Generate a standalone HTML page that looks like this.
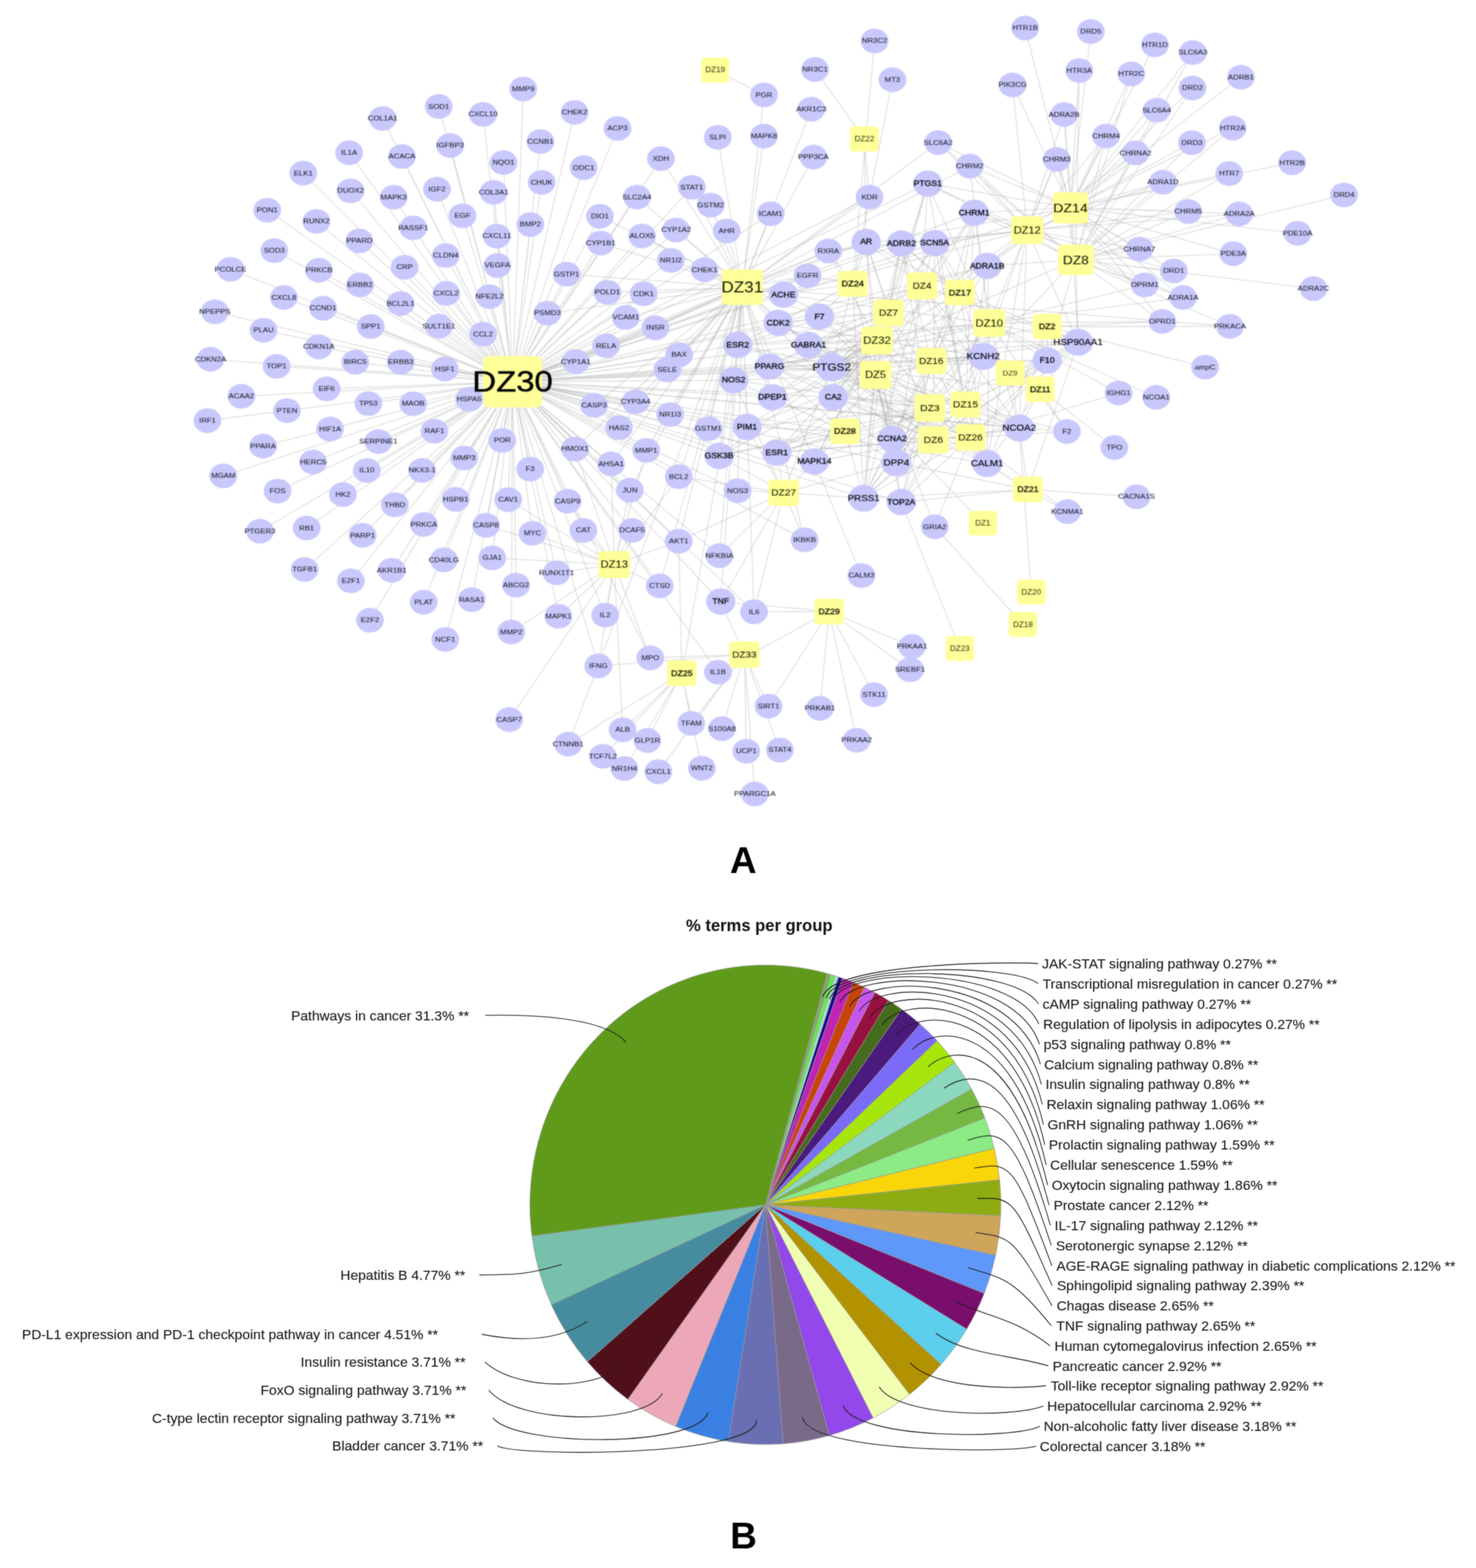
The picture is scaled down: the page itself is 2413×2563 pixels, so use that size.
<!DOCTYPE html>
<html lang="en"><head><meta charset="utf-8"><title>Network and pathway enrichment</title>
<style>
html,body{margin:0;padding:0;background:#fff}
body{width:2413px;height:2563px;overflow:hidden}
svg{display:block;font-family:"Liberation Sans",sans-serif}
.e{stroke:#969696;stroke-width:1.3;stroke-opacity:.37;fill:none}
.g{fill:#c8c8fc}
.d{fill:#ffff99}
.t{fill:#1c1c26;text-anchor:middle;stroke:#1c1c26;stroke-width:.08}
.t .b{stroke-width:.38;fill:#06060c;stroke:#06060c}
.t .l{stroke-width:.25;fill:#08080e;stroke:#08080e}
.dt{fill:#1c1c06;text-anchor:middle;stroke:#1c1c06;stroke-width:.15}
.dt .s{fill:#2c2c12;stroke:none}
.dt .big{stroke-width:.12}
.dt .m{stroke-width:.42;fill:#080800;stroke:#080800}
.dt .x{stroke-width:.7;fill:#000;stroke:#000}
.pl{font-size:22.67px;fill:#1a1a1a;stroke:#1a1a1a;stroke-width:.2}
.ln{stroke:#1c1c1c;stroke-width:1.35;fill:none}
.sl{stroke:#999;stroke-width:0.9;stroke-linejoin:round}
</style></head><body>
<svg width="2413" height="2563" viewBox="0 0 2413 2563" role="img" aria-label="Compound-target network (A) and KEGG pathway pie chart (B)">
<defs><filter id="b1" x="-2%" y="-2%" width="104%" height="104%" color-interpolation-filters="sRGB"><feGaussianBlur stdDeviation="0.85" result="b"/><feComposite in="SourceGraphic" in2="b" operator="arithmetic" k1="0" k2="0.25" k3="0.75" k4="0"/></filter><filter id="b2" x="-2%" y="-2%" width="104%" height="104%" color-interpolation-filters="sRGB"><feGaussianBlur stdDeviation="0.8" result="b"/><feComposite in="SourceGraphic" in2="b" operator="arithmetic" k1="0" k2="0.5" k3="0.5" k4="0"/></filter></defs>
<rect width="2413" height="2563" fill="#fff"/>
<g filter="url(#b1)">
<g class="e">
<path d="M838.0 624.0L855.4 145.5M838.0 624.0L717.3 174.0M838.0 624.0L789.7 186.9M838.0 624.0L625.6 193.6M838.0 624.0L735.9 237.8M838.0 624.0L883.5 231.4M838.0 624.0L570.8 249.7M838.0 624.0L657.1 255.8M838.0 624.0L823.1 265.7M838.0 624.0L495.8 283.0M838.0 624.0L885.6 298.1M838.0 624.0L573.1 311.9M838.0 624.0L714.4 309.3M838.0 624.0L807.1 314.4M838.0 624.0L643.6 322.4M838.0 624.0L436.9 343.6M838.0 624.0L756.1 352.6M838.0 624.0L517.3 361.9M838.0 624.0L867.1 367.0M838.0 624.0L675.6 372.4M838.0 624.0L812.2 385.9M838.0 624.0L587.5 393.9M838.0 624.0L448.4 409.6M838.0 624.0L728.8 417.6M838.0 624.0L813.1 434.0M838.0 624.0L661.5 436.9M838.0 624.0L376.9 440.1M838.0 624.0L521.5 441.7M838.0 624.0L588.5 465.7M838.0 624.0L729.5 479.5M838.0 624.0L800.3 484.9M838.0 624.0L464.1 486.2M838.0 624.0L654.8 496.2M838.0 624.0L528.2 503.8M838.0 624.0L351.3 509.6M838.0 624.0L606.1 533.7M838.0 624.0L717.6 533.3M838.0 624.0L430.8 539.7M838.0 624.0L789.7 546.2M838.0 624.0L521.2 567.0"/>
<path d="M838.0 624.0L344.2 587.2M838.0 624.0L452.2 598.7M838.0 624.0L580.8 592.0M838.0 624.0L655.1 592.0M838.0 624.0L727.2 603.2M838.0 624.0L534.0 635.6M838.0 624.0L394.6 647.8M838.0 624.0L602.2 659.6M838.0 624.0L675.6 659.9M838.0 624.0L767.0 652.6M838.0 624.0L469.2 671.2M838.0 624.0L339.1 687.5M838.0 624.0L539.7 701.3M838.0 624.0L710.3 704.8M838.0 624.0L618.6 721.8M838.0 624.0L821.2 719.9M838.0 624.0L430.1 729.2M838.0 624.0L759.0 748.7M838.0 624.0L511.9 755.1M838.0 624.0L599.7 768.9M838.0 624.0L690.1 768.9M838.0 624.0L866.7 766.7M838.0 624.0L365.1 777.9M838.0 624.0L453.8 802.6M838.0 624.0L560.6 808.3M838.0 624.0L744.9 816.3M838.0 624.0L830.8 816.7M838.0 624.0L645.5 825.0M838.0 624.0L692.9 857.1M838.0 624.0L794.6 858.7M838.0 624.0L501.3 863.1M838.0 624.0L425.0 868.3M838.0 624.0L870.5 871.8M838.0 624.0L592.9 875.0M838.0 624.0L725.6 915.1M838.0 624.0L804.8 911.9M838.0 624.0L498.1 930.8M838.0 624.0L640.4 932.1M838.0 624.0L573.7 949.4M838.0 624.0L843.6 956.4"/>
<path d="M838.0 624.0L692.6 984.3M838.0 624.0L771.2 980.1M838.0 624.0L604.8 1013.8M838.0 624.0L835.9 1033.0M838.0 624.0L727.9 1045.2M838.0 624.0L939.4 183.7M838.0 624.0L1009.6 209.9M838.0 624.0L1080.4 259.3M838.0 624.0L954.2 274.0M838.0 624.0L1131.1 306.1M838.0 624.0L1041.3 322.1M838.0 624.0L980.8 353.5M838.0 624.0L1105.4 376.0M838.0 624.0L1049.7 385.6M838.0 624.0L982.1 397.4M838.0 624.0L1096.8 425.6M838.0 624.0L926.3 448.1M838.0 624.0L992.9 477.6M838.0 624.0L1052.2 480.1M838.0 624.0L894.9 511.9M838.0 624.0L1023.1 518.9M838.0 624.0L1071.5 535.9M838.0 624.0L991.0 565.1M838.0 624.0L1110.3 579.8M838.0 624.0L941.3 591.0M838.0 624.0L1091.0 604.5M838.0 624.0L971.2 662.5M838.0 624.0L1039.1 656.7M838.0 624.0L1095.5 677.6M838.0 624.0L1011.9 699.0M838.0 624.0L940.1 734.0M838.0 624.0L1056.4 736.2M838.0 624.0L999.0 758.3M838.0 624.0L1109.6 779.2M838.0 624.0L1029.8 801.3M838.0 624.0L927.9 819.2M838.0 624.0L953.8 867.0M838.0 624.0L1033.3 867.0M838.0 624.0L1109.6 884.6M838.0 624.0L909.9 936.2"/>
<path d="M838.0 624.0L1078.5 957.7M838.0 624.0L913.1 1007.4M838.0 624.0L989.4 1005.4M838.0 624.0L978.2 1088.5M838.0 624.0L1516.7 300.3M838.0 624.0L1416.0 395.5M838.0 624.0L1258.0 599.0M838.0 624.0L1359.6 600.3M838.0 624.0L1762.5 559.4M838.0 624.0L1666.3 699.8M838.0 624.0L1465.4 756.5M838.0 624.0L1411.9 814.4M838.0 624.0L1339.7 517.6M838.0 624.0L1527.9 397.4M838.0 624.0L1711.9 589.2M838.0 624.0L1744.2 705.3M838.0 624.0L1607.4 582.5M838.0 624.0L1473.7 398.1M838.0 624.0L1354.2 410.3M838.0 624.0L1280.8 481.7M838.0 624.0L1320.2 450.6M838.0 624.0L1473.4 820.6M838.0 624.0L1205.8 802.2M838.0 624.0L1173.7 1098.7M838.0 624.0L1232.7 1000.0M838.0 624.0L1178.2 983.3M838.0 624.0L1176.0 908.3M838.0 624.0L1199.4 621.5M838.0 624.0L1206.1 563.8M838.0 624.0L1321.8 563.8M838.0 624.0L1272.1 527.6M838.0 624.0L1221.2 697.8M838.0 624.0L1175.6 745.2M838.0 624.0L1331.4 754.5M838.0 624.0L1362.2 649.4M838.0 624.0L1262.8 649.4M838.0 624.0L1458.3 717.1M838.0 624.0L1269.9 739.7M838.0 624.0L1613.8 757.8M838.0 624.0L1421.5 322.1"/>
<path d="M838.0 624.0L1259.9 349.4M838.0 624.0L1315.4 882.4M838.0 624.0L1613.8 434.6M838.0 624.0L1592.6 347.8M838.0 624.0L1063.1 1075.3M1213.5 469.6L1199.4 621.5M1213.5 469.6L1416.0 395.5M1213.5 469.6L1258.0 599.0M1213.5 469.6L1359.6 600.3M1213.5 469.6L2010.8 533.5M1213.5 469.6L1465.4 756.5M1213.5 469.6L1249.0 155.1M1213.5 469.6L1280.8 481.7M1213.5 469.6L1533.7 233.0M1213.5 469.6L1585.3 271.5M1213.5 469.6L1321.8 563.8M1213.5 469.6L1339.7 517.6M1213.5 469.6L991.0 565.1M1213.5 469.6L1315.4 882.4M1213.5 469.6L1109.6 884.6M1213.5 469.6L1109.6 779.2M1213.5 469.6L1110.3 579.8M1213.5 469.6L1178.2 983.3M1213.5 469.6L1029.8 801.3M1213.5 469.6L999.0 758.3M1213.5 469.6L971.2 662.5M1213.5 469.6L1249.0 222.4M1213.5 469.6L1080.4 259.3M1213.5 469.6L1056.4 736.2M1213.5 469.6L1131.1 306.1M1213.5 469.6L1052.2 480.1M1213.5 469.6L1329.8 256.7M1213.5 469.6L940.1 734.0M1213.5 469.6L1039.1 656.7M1213.5 469.6L1105.4 376.0M1213.5 469.6L941.3 591.0M1213.5 469.6L1259.9 349.4M1213.5 469.6L1091.0 604.5M1213.5 469.6L1023.1 518.9M1213.5 469.6L1096.8 425.6"/>
<path d="M1213.5 469.6L982.1 397.4M1213.5 469.6L1049.7 385.6M1213.5 469.6L1011.9 699.0M1213.5 469.6L926.3 448.1M1213.5 469.6L1188.1 377.6M1213.5 469.6L894.9 511.9M1213.5 469.6L1041.3 322.1M1213.5 469.6L1095.5 677.6M1213.5 469.6L1071.5 535.9M1213.5 469.6L980.8 353.5M1213.5 469.6L1158.0 700.6M1213.5 469.6L1161.9 335.3M1213.5 469.6L1326.3 178.5M1213.5 469.6L1173.4 224.4M1213.5 469.6L1151.9 441.0M1213.5 469.6L992.9 477.6M1213.5 469.6L1205.8 802.2M1213.5 469.6L1421.5 322.1M1213.5 469.6L1354.2 410.3M1213.5 469.6L1320.2 450.6M1213.5 469.6L1206.1 563.8M1213.5 469.6L1272.1 527.6M1213.5 469.6L1221.2 697.8M1213.5 469.6L1175.6 745.2M1213.5 469.6L1331.4 754.5M1213.5 469.6L1262.8 649.4M1213.5 469.6L1176.0 908.3M1213.5 469.6L928.8 1216.3M1213.5 469.6L1408.3 940.7M1213.5 469.6L1078.5 957.7M1213.5 469.6L1232.7 1000.0M1750.0 339.7L1676.0 45.8M1750.0 339.7L1783.3 51.6M1750.0 339.7L1764.4 115.4M1750.0 339.7L1655.4 138.8M1750.0 339.7L1739.7 187.2M1750.0 339.7L1849.4 120.8M1750.0 339.7L1888.1 73.4M1750.0 339.7L1950.2 85.9M1750.0 339.7L1949.5 143.9"/>
<path d="M1750.0 339.7L1891.0 180.1M1750.0 339.7L1808.3 222.4M1750.0 339.7L1856.4 250.0M1750.0 339.7L1948.6 233.3M1750.0 339.7L1901.3 297.8M1750.0 339.7L1727.6 260.6M1750.0 339.7L1942.5 345.8M1750.0 339.7L2028.7 126.3M1750.0 339.7L2015.2 209.3M1750.0 339.7L2009.5 283.7M1750.0 339.7L2112.4 266.0M1750.0 339.7L2025.8 349.7M1750.0 339.7L2121.3 381.4M1750.0 339.7L2016.2 414.7M1750.0 339.7L1862.8 407.1M1750.0 339.7L1918.9 442.9M1750.0 339.7L1871.5 465.7M1750.0 339.7L1934.2 486.2M1750.0 339.7L1900.3 525.4M1750.0 339.7L1585.3 271.5M1750.0 339.7L1592.6 347.8M1750.0 339.7L1533.7 233.0M1750.0 339.7L1516.7 300.3M1750.0 339.7L1359.6 600.3M1750.0 339.7L1613.8 434.6M1750.0 339.7L1762.5 559.4M1750.0 339.7L1354.2 410.3M1750.0 339.7L1280.8 481.7M1758.7 424.7L1764.4 115.4M1758.7 424.7L1849.4 120.8M1758.7 424.7L1950.2 85.9M1758.7 424.7L1891.0 180.1M1758.7 424.7L1949.5 143.9M1758.7 424.7L1808.3 222.4M1758.7 424.7L1856.4 250.0M1758.7 424.7L1948.6 233.3M1758.7 424.7L1901.3 297.8M1758.7 424.7L1727.6 260.6M1758.7 424.7L1942.5 345.8M1758.7 424.7L2015.2 209.3"/>
<path d="M1758.7 424.7L2009.5 283.7M1758.7 424.7L2025.8 349.7M1758.7 424.7L1739.7 187.2M1758.7 424.7L2197.3 318.6M1758.7 424.7L1862.8 407.1M1758.7 424.7L1918.9 442.9M1758.7 424.7L1871.5 465.7M1758.7 424.7L1934.2 486.2M1758.7 424.7L1900.3 525.4M1758.7 424.7L2016.2 414.7M1758.7 424.7L2010.8 533.5M1758.7 424.7L2147.3 471.8M1758.7 424.7L1592.6 347.8M1758.7 424.7L1585.3 271.5M1758.7 424.7L1613.8 434.6M1758.7 424.7L1533.7 233.0M1758.7 424.7L1516.7 300.3M1758.7 424.7L1359.6 600.3M1758.7 424.7L1607.4 582.5M1758.7 424.7L1762.5 559.4M1758.7 424.7L1711.9 589.2M1679.2 376.3L1655.4 138.8M1679.2 376.3L1739.7 187.2M1679.2 376.3L1727.6 260.6M1679.2 376.3L1592.6 347.8M1679.2 376.3L1585.3 271.5M1679.2 376.3L1533.7 233.0M1679.2 376.3L1516.7 300.3M1679.2 376.3L1613.8 434.6M1679.2 376.3L1901.3 297.8M1679.2 376.3L1942.5 345.8M1679.2 376.3L1808.3 222.4M1679.2 376.3L1856.4 250.0M1679.2 376.3L2025.8 349.7M1679.2 376.3L1862.8 407.1M1679.2 376.3L1871.5 465.7M1679.2 376.3L1934.2 486.2M1679.2 376.3L1473.7 398.1M1679.2 376.3L1527.9 397.4M1679.2 376.3L1359.6 600.3"/>
<path d="M1679.2 376.3L1607.4 582.5M1679.2 376.3L1762.5 559.4M1679.2 376.3L1354.2 410.3M1679.2 376.3L1918.9 442.9M1679.2 376.3L1666.3 699.8M1679.2 376.3L1613.8 757.8M1679.2 376.3L1280.8 481.7M1617.3 528.0L1890.4 649.5M1617.3 528.0L1359.6 600.3M1617.3 528.0L1516.7 300.3M1617.3 528.0L1607.4 582.5M1617.3 528.0L1527.9 397.4M1617.3 528.0L1473.7 398.1M1617.3 528.0L1592.6 347.8M1617.3 528.0L1613.8 434.6M1617.3 528.0L1762.5 559.4M1617.3 528.0L1711.9 589.2M1617.3 528.0L1666.3 699.8M1617.3 528.0L1613.8 757.8M1617.3 528.0L1269.9 739.7M1617.3 528.0L1206.1 563.8M1617.3 528.0L1258.0 599.0M1617.3 528.0L1321.8 563.8M1617.3 528.0L1727.6 260.6M1617.3 528.0L1934.2 486.2M1617.3 528.0L1871.5 465.7M1617.3 528.0L1465.4 756.5M1617.3 528.0L1411.9 814.4M1617.3 528.0L1458.3 717.1M1617.3 528.0L1744.2 705.3M1617.3 528.0L1280.8 481.7M1617.3 528.0L1585.3 271.5M1617.3 528.0L1900.3 525.4M1617.3 528.0L1828.8 642.4M1433.7 556.5L1359.6 600.3M1433.7 556.5L1516.7 300.3M1433.7 556.5L1416.0 395.5M1433.7 556.5L1269.9 739.7M1433.7 556.5L1206.1 563.8M1433.7 556.5L1258.0 599.0"/>
<path d="M1433.7 556.5L1199.4 621.5M1433.7 556.5L1762.5 559.4M1433.7 556.5L1666.3 699.8M1433.7 556.5L1613.8 757.8M1433.7 556.5L1607.4 582.5M1433.7 556.5L1527.9 397.4M1433.7 556.5L1473.7 398.1M1433.7 556.5L1339.7 517.6M1433.7 556.5L1272.1 527.6M1433.7 556.5L1321.8 563.8M1433.7 556.5L1280.8 481.7M1433.7 556.5L1465.4 756.5M1433.7 556.5L1411.9 814.4M1433.7 556.5L1458.3 717.1M1433.7 556.5L1473.4 820.6M1433.7 556.5L1331.4 754.5M1433.7 556.5L1175.6 745.2M1433.7 556.5L1221.2 697.8M1433.7 556.5L1362.2 649.4M1433.7 556.5L1262.8 649.4M1433.7 556.5L1354.2 410.3M1431.4 612.6L1359.6 600.3M1431.4 612.6L1516.7 300.3M1431.4 612.6L1416.0 395.5M1431.4 612.6L1269.9 739.7M1431.4 612.6L1206.1 563.8M1431.4 612.6L1258.0 599.0M1431.4 612.6L1199.4 621.5M1431.4 612.6L1666.3 699.8M1431.4 612.6L1613.8 757.8M1431.4 612.6L1607.4 582.5M1431.4 612.6L1473.7 398.1M1431.4 612.6L1339.7 517.6M1431.4 612.6L1272.1 527.6M1431.4 612.6L1321.8 563.8M1431.4 612.6L1465.4 756.5M1431.4 612.6L1411.9 814.4M1431.4 612.6L1458.3 717.1M1431.4 612.6L1473.4 820.6M1431.4 612.6L1331.4 754.5"/>
<path d="M1431.4 612.6L1175.6 745.2M1431.4 612.6L1221.2 697.8M1431.4 612.6L1362.2 649.4M1431.4 612.6L1262.8 649.4M1431.4 612.6L1613.8 434.6M1431.4 612.6L1592.6 347.8M1431.4 612.6L1528.2 861.0M1507.4 467.3L1359.6 600.3M1507.4 467.3L1516.7 300.3M1507.4 467.3L1416.0 395.5M1507.4 467.3L1762.5 559.4M1507.4 467.3L1666.3 699.8M1507.4 467.3L1607.4 582.5M1507.4 467.3L1527.9 397.4M1507.4 467.3L1473.7 398.1M1507.4 467.3L1592.6 347.8M1507.4 467.3L1613.8 434.6M1507.4 467.3L1321.8 563.8M1507.4 467.3L1613.8 757.8M1507.4 467.3L1465.4 756.5M1507.4 467.3L1411.9 814.4M1507.4 467.3L1362.2 649.4M1507.4 467.3L1206.1 563.8M1507.4 467.3L1272.1 527.6M1452.6 511.3L1359.6 600.3M1452.6 511.3L1516.7 300.3M1452.6 511.3L1416.0 395.5M1452.6 511.3L1206.1 563.8M1452.6 511.3L1258.0 599.0M1452.6 511.3L1199.4 621.5M1452.6 511.3L1613.8 757.8M1452.6 511.3L1527.9 397.4M1452.6 511.3L1473.7 398.1M1452.6 511.3L1339.7 517.6M1452.6 511.3L1272.1 527.6M1452.6 511.3L1321.8 563.8M1452.6 511.3L1411.9 814.4M1452.6 511.3L1458.3 717.1M1452.6 511.3L1331.4 754.5M1452.6 511.3L1362.2 649.4"/>
<path d="M1452.6 511.3L1262.8 649.4M1452.6 511.3L1607.4 582.5M1522.4 589.9L1359.6 600.3M1522.4 589.9L1258.0 599.0M1522.4 589.9L1762.5 559.4M1522.4 589.9L1666.3 699.8M1522.4 589.9L1613.8 757.8M1522.4 589.9L1607.4 582.5M1522.4 589.9L1473.7 398.1M1522.4 589.9L1711.9 589.2M1522.4 589.9L1321.8 563.8M1522.4 589.9L1465.4 756.5M1522.4 589.9L1411.9 814.4M1522.4 589.9L1458.3 717.1M1522.4 589.9L1473.4 820.6M1522.4 589.9L1362.2 649.4M1522.4 589.9L1613.8 434.6M1522.4 589.9L1592.6 347.8M1520.2 666.8L1359.6 600.3M1520.2 666.8L1269.9 739.7M1520.2 666.8L1206.1 563.8M1520.2 666.8L1199.4 621.5M1520.2 666.8L1762.5 559.4M1520.2 666.8L1666.3 699.8M1520.2 666.8L1613.8 757.8M1520.2 666.8L1607.4 582.5M1520.2 666.8L1339.7 517.6M1520.2 666.8L1272.1 527.6M1520.2 666.8L1465.4 756.5M1520.2 666.8L1411.9 814.4M1520.2 666.8L1458.3 717.1M1520.2 666.8L1473.4 820.6M1520.2 666.8L1331.4 754.5M1520.2 666.8L1175.6 745.2M1520.2 666.8L1221.2 697.8M1520.2 666.8L1362.2 649.4M1526.0 719.0L1359.6 600.3M1526.0 719.0L1416.0 395.5M1526.0 719.0L1269.9 739.7M1526.0 719.0L1258.0 599.0"/>
<path d="M1526.0 719.0L1762.5 559.4M1526.0 719.0L1666.3 699.8M1526.0 719.0L1613.8 757.8M1526.0 719.0L1607.4 582.5M1526.0 719.0L1527.9 397.4M1526.0 719.0L1473.7 398.1M1526.0 719.0L1711.9 589.2M1526.0 719.0L1465.4 756.5M1526.0 719.0L1411.9 814.4M1526.0 719.0L1458.3 717.1M1526.0 719.0L1473.4 820.6M1526.0 719.0L1331.4 754.5M1526.0 719.0L1362.2 649.4M1526.0 719.0L1321.8 563.8M1578.5 661.3L1359.6 600.3M1578.5 661.3L1516.7 300.3M1578.5 661.3L1269.9 739.7M1578.5 661.3L1762.5 559.4M1578.5 661.3L1666.3 699.8M1578.5 661.3L1613.8 757.8M1578.5 661.3L1607.4 582.5M1578.5 661.3L1527.9 397.4M1578.5 661.3L1711.9 589.2M1578.5 661.3L1744.2 705.3M1578.5 661.3L1465.4 756.5M1578.5 661.3L1411.9 814.4M1578.5 661.3L1458.3 717.1M1578.5 661.3L1473.4 820.6M1578.5 661.3L1362.2 649.4M1578.5 661.3L1592.6 347.8M1578.5 661.3L1613.8 434.6M1578.5 661.3L1321.8 563.8M1586.5 714.9L1359.6 600.3M1586.5 714.9L1269.9 739.7M1586.5 714.9L1762.5 559.4M1586.5 714.9L1666.3 699.8M1586.5 714.9L1613.8 757.8M1586.5 714.9L1607.4 582.5M1586.5 714.9L1527.9 397.4M1586.5 714.9L1711.9 589.2"/>
<path d="M1586.5 714.9L1744.2 705.3M1586.5 714.9L1465.4 756.5M1586.5 714.9L1411.9 814.4M1586.5 714.9L1458.3 717.1M1586.5 714.9L1473.4 820.6M1586.5 714.9L1362.2 649.4M1586.5 714.9L1258.0 599.0M1586.5 714.9L1528.2 861.0M1586.5 714.9L1744.9 836.3M1586.5 714.9L1828.8 642.4M1394.0 463.7L1459.0 130.4M1394.0 463.7L1429.8 67.0M1394.0 463.7L1421.5 322.1M1394.0 463.7L1416.0 395.5M1394.0 463.7L1359.6 600.3M1394.0 463.7L1206.1 563.8M1394.0 463.7L1354.2 410.3M1394.0 463.7L1320.2 450.6M1394.0 463.7L1280.8 481.7M1394.0 463.7L1339.7 517.6M1394.0 463.7L1272.1 527.6M1394.0 463.7L1411.9 814.4M1394.0 463.7L1465.4 756.5M1569.2 478.0L1359.6 600.3M1569.2 478.0L1527.9 397.4M1569.2 478.0L1473.7 398.1M1569.2 478.0L1592.6 347.8M1569.2 478.0L1613.8 434.6M1569.2 478.0L1607.4 582.5M1569.2 478.0L1762.5 559.4M1569.2 478.0L1613.8 757.8M1569.2 478.0L1416.0 395.5M1569.2 478.0L1411.9 814.4M1569.2 478.0L1465.4 756.5M1711.9 533.8L2010.8 533.5M1711.9 533.8L1970.1 600.1M1711.9 533.8L1900.3 525.4M1711.9 533.8L1762.5 559.4M1711.9 533.8L1711.9 589.2M1711.9 533.8L1359.6 600.3"/>
<path d="M1711.9 533.8L1666.3 699.8M1711.9 533.8L1613.8 757.8M1700.6 636.3L1821.8 731.5M1700.6 636.3L1711.9 589.2M1700.6 636.3L1762.5 559.4M1700.6 636.3L1666.3 699.8M1700.6 636.3L1607.4 582.5M1700.6 636.3L1359.6 600.3M1700.6 636.3L1613.8 757.8M1700.6 636.3L1744.2 705.3M1651.3 609.7L1607.4 582.5M1651.3 609.7L1711.9 589.2M1651.3 609.7L1666.3 699.8M1381.4 705.0L1359.6 600.3M1381.4 705.0L1269.9 739.7M1381.4 705.0L1331.4 754.5M1381.4 705.0L1221.2 697.8M1381.4 705.0L1175.6 745.2M1381.4 705.0L1465.4 756.5M1381.4 705.0L1411.9 814.4M1381.4 705.0L1258.0 599.0M1381.4 705.0L1262.8 649.4M1381.4 705.0L1199.4 621.5M1680.4 800.1L1858.0 812.0M1680.4 800.1L1744.9 836.3M1680.4 800.1L1613.8 757.8M1680.4 800.1L1666.3 699.8M1680.4 800.1L1411.9 814.4M1680.4 800.1L1359.6 600.3M1680.4 800.1L1473.4 820.6M1680.4 800.1L1465.4 756.5M1680.4 800.1L1762.5 559.4M1606.7 855.3L1359.6 600.3M1281.1 805.4L1315.4 882.4M1281.1 805.4L1205.8 802.2M1281.1 805.4L1232.7 1000.0M1281.1 805.4L1178.2 983.3M1281.1 805.4L1176.0 908.3M1281.1 805.4L1269.9 739.7M1281.1 805.4L1331.4 754.5"/>
<path d="M1281.1 805.4L1175.6 745.2M1281.1 805.4L1411.9 814.4M1281.1 805.4L1359.6 600.3M1281.1 805.4L1221.2 697.8M1281.1 805.4L1465.4 756.5M1281.1 805.4L1199.4 621.5M1281.1 805.4L1109.6 779.2M1281.1 805.4L1109.6 884.6M1004.2 922.8L804.8 911.9M1004.2 922.8L909.9 936.2M1004.2 922.8L913.1 1007.4M1004.2 922.8L835.9 1033.0M1004.2 922.8L832.4 1176.3M1004.2 922.8L989.4 1005.4M1004.2 922.8L978.2 1088.5M1004.2 922.8L1017.9 1192.9M1004.2 922.8L1063.1 1075.3M1004.2 922.8L1078.5 957.7M1004.2 922.8L1109.6 884.6M1004.2 922.8L1033.3 867.0M1004.2 922.8L953.8 867.0M1004.2 922.8L1029.8 801.3M1004.2 922.8L927.9 819.2M1004.2 922.8L794.6 858.7M1004.2 922.8L830.8 816.7M1004.2 922.8L870.5 871.8M1004.2 922.8L1056.4 736.2M1004.2 922.8L1109.6 779.2M1004.2 922.8L940.1 734.0M1004.2 922.8L999.0 758.3M1355.4 999.5L1491.0 1056.7M1355.4 999.5L1487.8 1094.6M1355.4 999.5L1428.8 1135.3M1355.4 999.5L1340.4 1157.7M1355.4 999.5L1400.6 1209.9M1355.4 999.5L1256.4 1154.2M1355.4 999.5L1232.7 1000.0M1355.4 999.5L1178.2 983.3M1355.4 999.5L1173.7 1098.7M1217.0 1069.9L1063.1 1075.3"/>
<path d="M1217.0 1069.9L978.2 1088.5M1217.0 1069.9L1178.2 983.3M1217.0 1069.9L1173.7 1098.7M1217.0 1069.9L1256.4 1154.2M1217.0 1069.9L1220.2 1227.9M1217.0 1069.9L1275.0 1226.0M1217.0 1069.9L1234.0 1297.8M1217.0 1069.9L1180.4 1191.0M1217.0 1069.9L1130.1 1182.4M1217.0 1069.9L1076.3 1261.5M1114.7 1100.3L1109.6 884.6M1114.7 1100.3L1199.4 621.5M1114.7 1100.3L1017.9 1192.9M1114.7 1100.3L1058.3 1210.3M1114.7 1100.3L985.6 1236.2M1114.7 1100.3L1020.8 1256.1M1114.7 1100.3L928.8 1216.3M1114.7 1100.3L1130.1 1182.4M1114.7 1100.3L1147.4 1255.8M1169.2 114.4L1249.0 155.1M1413.1 227.2L1332.4 113.5M1413.1 227.2L1421.5 322.1M1413.1 227.2L1416.0 395.5M1685.9 967.9L1666.3 699.8M1672.4 1020.8L1528.2 861.0M1569.2 1059.9L1473.4 820.6"/>
</g>
<g class="g">
<ellipse cx="855.4" cy="145.5" rx="22.7" ry="20.2"/>
<ellipse cx="717.3" cy="174.0" rx="22.7" ry="20.2"/>
<ellipse cx="789.7" cy="186.9" rx="22.7" ry="20.2"/>
<ellipse cx="625.6" cy="193.6" rx="22.7" ry="20.2"/>
<ellipse cx="735.9" cy="237.8" rx="22.7" ry="20.2"/>
<ellipse cx="883.5" cy="231.4" rx="22.7" ry="20.2"/>
<ellipse cx="570.8" cy="249.7" rx="22.7" ry="20.2"/>
<ellipse cx="657.1" cy="255.8" rx="22.7" ry="20.2"/>
<ellipse cx="823.1" cy="265.7" rx="22.7" ry="20.2"/>
<ellipse cx="495.8" cy="283.0" rx="22.7" ry="20.2"/>
<ellipse cx="885.6" cy="298.1" rx="22.7" ry="20.2"/>
<ellipse cx="573.1" cy="311.9" rx="22.7" ry="20.2"/>
<ellipse cx="714.4" cy="309.3" rx="22.7" ry="20.2"/>
<ellipse cx="807.1" cy="314.4" rx="22.7" ry="20.2"/>
<ellipse cx="643.6" cy="322.4" rx="22.7" ry="20.2"/>
<ellipse cx="436.9" cy="343.6" rx="22.7" ry="20.2"/>
<ellipse cx="756.1" cy="352.6" rx="22.7" ry="20.2"/>
<ellipse cx="517.3" cy="361.9" rx="22.7" ry="20.2"/>
<ellipse cx="867.1" cy="367.0" rx="22.7" ry="20.2"/>
<ellipse cx="675.6" cy="372.4" rx="22.7" ry="20.2"/>
<ellipse cx="812.2" cy="385.9" rx="22.7" ry="20.2"/>
<ellipse cx="587.5" cy="393.9" rx="22.7" ry="20.2"/>
<ellipse cx="448.4" cy="409.6" rx="22.7" ry="20.2"/>
<ellipse cx="728.8" cy="417.6" rx="22.7" ry="20.2"/>
<ellipse cx="813.1" cy="434.0" rx="22.7" ry="20.2"/>
<ellipse cx="661.5" cy="436.9" rx="22.7" ry="20.2"/>
<ellipse cx="376.9" cy="440.1" rx="22.7" ry="20.2"/>
<ellipse cx="521.5" cy="441.7" rx="22.7" ry="20.2"/>
<ellipse cx="588.5" cy="465.7" rx="22.7" ry="20.2"/>
<ellipse cx="729.5" cy="479.5" rx="22.7" ry="20.2"/>
<ellipse cx="800.3" cy="484.9" rx="22.7" ry="20.2"/>
<ellipse cx="464.1" cy="486.2" rx="22.7" ry="20.2"/>
<ellipse cx="654.8" cy="496.2" rx="22.7" ry="20.2"/>
<ellipse cx="528.2" cy="503.8" rx="22.7" ry="20.2"/>
<ellipse cx="351.3" cy="509.6" rx="22.7" ry="20.2"/>
<ellipse cx="606.1" cy="533.7" rx="22.7" ry="20.2"/>
<ellipse cx="717.6" cy="533.3" rx="22.7" ry="20.2"/>
<ellipse cx="430.8" cy="539.7" rx="22.7" ry="20.2"/>
<ellipse cx="789.7" cy="546.2" rx="22.7" ry="20.2"/>
<ellipse cx="521.2" cy="567.0" rx="22.7" ry="20.2"/>
<ellipse cx="344.2" cy="587.2" rx="22.7" ry="20.2"/>
<ellipse cx="452.2" cy="598.7" rx="22.7" ry="20.2"/>
<ellipse cx="580.8" cy="592.0" rx="22.7" ry="20.2"/>
<ellipse cx="655.1" cy="592.0" rx="22.7" ry="20.2"/>
<ellipse cx="727.2" cy="603.2" rx="22.7" ry="20.2"/>
<ellipse cx="534.0" cy="635.6" rx="22.7" ry="20.2"/>
<ellipse cx="394.6" cy="647.8" rx="22.7" ry="20.2"/>
<ellipse cx="602.2" cy="659.6" rx="22.7" ry="20.2"/>
<ellipse cx="675.6" cy="659.9" rx="22.7" ry="20.2"/>
<ellipse cx="767.0" cy="652.6" rx="22.7" ry="20.2"/>
<ellipse cx="469.2" cy="671.2" rx="22.7" ry="20.2"/>
<ellipse cx="339.1" cy="687.5" rx="22.7" ry="20.2"/>
<ellipse cx="539.7" cy="701.3" rx="22.7" ry="20.2"/>
<ellipse cx="710.3" cy="704.8" rx="22.7" ry="20.2"/>
<ellipse cx="618.6" cy="721.8" rx="22.7" ry="20.2"/>
<ellipse cx="821.2" cy="719.9" rx="22.7" ry="20.2"/>
<ellipse cx="430.1" cy="729.2" rx="22.7" ry="20.2"/>
<ellipse cx="759.0" cy="748.7" rx="22.7" ry="20.2"/>
<ellipse cx="511.9" cy="755.1" rx="22.7" ry="20.2"/>
<ellipse cx="599.7" cy="768.9" rx="22.7" ry="20.2"/>
<ellipse cx="690.1" cy="768.9" rx="22.7" ry="20.2"/>
<ellipse cx="866.7" cy="766.7" rx="22.7" ry="20.2"/>
<ellipse cx="365.1" cy="777.9" rx="22.7" ry="20.2"/>
<ellipse cx="453.8" cy="802.6" rx="22.7" ry="20.2"/>
<ellipse cx="560.6" cy="808.3" rx="22.7" ry="20.2"/>
<ellipse cx="744.9" cy="816.3" rx="22.7" ry="20.2"/>
<ellipse cx="830.8" cy="816.7" rx="22.7" ry="20.2"/>
<ellipse cx="645.5" cy="825.0" rx="22.7" ry="20.2"/>
<ellipse cx="692.9" cy="857.1" rx="22.7" ry="20.2"/>
<ellipse cx="794.6" cy="858.7" rx="22.7" ry="20.2"/>
<ellipse cx="501.3" cy="863.1" rx="22.7" ry="20.2"/>
<ellipse cx="425.0" cy="868.3" rx="22.7" ry="20.2"/>
<ellipse cx="870.5" cy="871.8" rx="22.7" ry="20.2"/>
<ellipse cx="592.9" cy="875.0" rx="22.7" ry="20.2"/>
<ellipse cx="725.6" cy="915.1" rx="22.7" ry="20.2"/>
<ellipse cx="804.8" cy="911.9" rx="22.7" ry="20.2"/>
<ellipse cx="498.1" cy="930.8" rx="22.7" ry="20.2"/>
<ellipse cx="640.4" cy="932.1" rx="22.7" ry="20.2"/>
<ellipse cx="573.7" cy="949.4" rx="22.7" ry="20.2"/>
<ellipse cx="843.6" cy="956.4" rx="22.7" ry="20.2"/>
<ellipse cx="692.6" cy="984.3" rx="22.7" ry="20.2"/>
<ellipse cx="771.2" cy="980.1" rx="22.7" ry="20.2"/>
<ellipse cx="604.8" cy="1013.8" rx="22.7" ry="20.2"/>
<ellipse cx="835.9" cy="1033.0" rx="22.7" ry="20.2"/>
<ellipse cx="727.9" cy="1045.2" rx="22.7" ry="20.2"/>
<ellipse cx="1332.4" cy="113.5" rx="22.7" ry="20.2"/>
<ellipse cx="1249.0" cy="155.1" rx="22.7" ry="20.2"/>
<ellipse cx="939.4" cy="183.7" rx="22.7" ry="20.2"/>
<ellipse cx="1326.3" cy="178.5" rx="22.7" ry="20.2"/>
<ellipse cx="1009.6" cy="209.9" rx="22.7" ry="20.2"/>
<ellipse cx="1173.4" cy="224.4" rx="22.7" ry="20.2"/>
<ellipse cx="1249.0" cy="222.4" rx="22.7" ry="20.2"/>
<ellipse cx="1080.4" cy="259.3" rx="22.7" ry="20.2"/>
<ellipse cx="1329.8" cy="256.7" rx="22.7" ry="20.2"/>
<ellipse cx="954.2" cy="274.0" rx="22.7" ry="20.2"/>
<ellipse cx="1131.1" cy="306.1" rx="22.7" ry="20.2"/>
<ellipse cx="1041.3" cy="322.1" rx="22.7" ry="20.2"/>
<ellipse cx="1421.5" cy="322.1" rx="22.7" ry="20.2"/>
<ellipse cx="1161.9" cy="335.3" rx="22.7" ry="20.2"/>
<ellipse cx="1259.9" cy="349.4" rx="22.7" ry="20.2"/>
<ellipse cx="980.8" cy="353.5" rx="22.7" ry="20.2"/>
<ellipse cx="1105.4" cy="376.0" rx="22.7" ry="20.2"/>
<ellipse cx="1188.1" cy="377.6" rx="22.7" ry="20.2"/>
<ellipse cx="1049.7" cy="385.6" rx="22.7" ry="20.2"/>
<ellipse cx="982.1" cy="397.4" rx="22.7" ry="20.2"/>
<ellipse cx="1416.0" cy="395.5" rx="24" ry="21.6"/>
<ellipse cx="1354.2" cy="410.3" rx="22.7" ry="20.2"/>
<ellipse cx="1096.8" cy="425.6" rx="22.7" ry="20.2"/>
<ellipse cx="1151.9" cy="441.0" rx="22.7" ry="20.2"/>
<ellipse cx="926.3" cy="448.1" rx="22.7" ry="20.2"/>
<ellipse cx="1320.2" cy="450.6" rx="22.7" ry="20.2"/>
<ellipse cx="992.9" cy="477.6" rx="22.7" ry="20.2"/>
<ellipse cx="1052.2" cy="480.1" rx="22.7" ry="20.2"/>
<ellipse cx="1280.8" cy="481.7" rx="24" ry="21.6"/>
<ellipse cx="894.9" cy="511.9" rx="22.7" ry="20.2"/>
<ellipse cx="1023.1" cy="518.9" rx="22.7" ry="20.2"/>
<ellipse cx="1339.7" cy="517.6" rx="24" ry="21.6"/>
<ellipse cx="1272.1" cy="527.6" rx="24" ry="21.6"/>
<ellipse cx="1071.5" cy="535.9" rx="22.7" ry="20.2"/>
<ellipse cx="1206.1" cy="563.8" rx="24" ry="21.6"/>
<ellipse cx="1321.8" cy="563.8" rx="24" ry="21.6"/>
<ellipse cx="991.0" cy="565.1" rx="22.7" ry="20.2"/>
<ellipse cx="1110.3" cy="579.8" rx="22.7" ry="20.2"/>
<ellipse cx="941.3" cy="591.0" rx="22.7" ry="20.2"/>
<ellipse cx="1091.0" cy="604.5" rx="22.7" ry="20.2"/>
<ellipse cx="1258.0" cy="599.0" rx="24" ry="21.6"/>
<ellipse cx="1359.6" cy="600.3" rx="25.7" ry="23.3"/>
<ellipse cx="1199.4" cy="621.5" rx="24" ry="21.6"/>
<ellipse cx="1262.8" cy="649.4" rx="24" ry="21.6"/>
<ellipse cx="1362.2" cy="649.4" rx="24" ry="21.6"/>
<ellipse cx="971.2" cy="662.5" rx="22.7" ry="20.2"/>
<ellipse cx="1039.1" cy="656.7" rx="22.7" ry="20.2"/>
<ellipse cx="1095.5" cy="677.6" rx="22.7" ry="20.2"/>
<ellipse cx="1011.9" cy="699.0" rx="22.7" ry="20.2"/>
<ellipse cx="1158.0" cy="700.6" rx="22.7" ry="20.2"/>
<ellipse cx="1221.2" cy="697.8" rx="24" ry="21.6"/>
<ellipse cx="940.1" cy="734.0" rx="22.7" ry="20.2"/>
<ellipse cx="1056.4" cy="736.2" rx="22.7" ry="20.2"/>
<ellipse cx="1175.6" cy="745.2" rx="24" ry="21.6"/>
<ellipse cx="1269.9" cy="739.7" rx="24" ry="21.6"/>
<ellipse cx="1331.4" cy="754.5" rx="24" ry="21.6"/>
<ellipse cx="999.0" cy="758.3" rx="22.7" ry="20.2"/>
<ellipse cx="1109.6" cy="779.2" rx="22.7" ry="20.2"/>
<ellipse cx="1029.8" cy="801.3" rx="22.7" ry="20.2"/>
<ellipse cx="1205.8" cy="802.2" rx="22.7" ry="20.2"/>
<ellipse cx="1411.9" cy="814.4" rx="24.6" ry="22.2"/>
<ellipse cx="927.9" cy="819.2" rx="22.7" ry="20.2"/>
<ellipse cx="953.8" cy="867.0" rx="22.7" ry="20.2"/>
<ellipse cx="1033.3" cy="867.0" rx="22.7" ry="20.2"/>
<ellipse cx="1109.6" cy="884.6" rx="22.7" ry="20.2"/>
<ellipse cx="1315.4" cy="882.4" rx="22.7" ry="20.2"/>
<ellipse cx="1176.0" cy="908.3" rx="22.7" ry="20.2"/>
<ellipse cx="909.9" cy="936.2" rx="22.7" ry="20.2"/>
<ellipse cx="1408.3" cy="940.7" rx="22.7" ry="20.2"/>
<ellipse cx="1078.5" cy="957.7" rx="22.7" ry="20.2"/>
<ellipse cx="1178.2" cy="983.3" rx="24" ry="21.6"/>
<ellipse cx="1232.7" cy="1000.0" rx="22.7" ry="20.2"/>
<ellipse cx="913.1" cy="1007.4" rx="22.7" ry="20.2"/>
<ellipse cx="989.4" cy="1005.4" rx="22.7" ry="20.2"/>
<ellipse cx="1063.1" cy="1075.3" rx="22.7" ry="20.2"/>
<ellipse cx="978.2" cy="1088.5" rx="22.7" ry="20.2"/>
<ellipse cx="1173.7" cy="1098.7" rx="22.7" ry="20.2"/>
<ellipse cx="1256.4" cy="1154.2" rx="22.7" ry="20.2"/>
<ellipse cx="832.4" cy="1176.3" rx="22.7" ry="20.2"/>
<ellipse cx="1130.1" cy="1182.4" rx="22.7" ry="20.2"/>
<ellipse cx="1180.4" cy="1191.0" rx="22.7" ry="20.2"/>
<ellipse cx="1017.9" cy="1192.9" rx="22.7" ry="20.2"/>
<ellipse cx="1058.3" cy="1210.3" rx="22.7" ry="20.2"/>
<ellipse cx="928.8" cy="1216.3" rx="22.7" ry="20.2"/>
<ellipse cx="985.6" cy="1236.2" rx="22.7" ry="20.2"/>
<ellipse cx="1220.2" cy="1227.9" rx="22.7" ry="20.2"/>
<ellipse cx="1275.0" cy="1226.0" rx="22.7" ry="20.2"/>
<ellipse cx="1020.8" cy="1256.1" rx="22.7" ry="20.2"/>
<ellipse cx="1076.3" cy="1261.5" rx="22.7" ry="20.2"/>
<ellipse cx="1147.4" cy="1255.8" rx="22.7" ry="20.2"/>
<ellipse cx="1234.0" cy="1297.8" rx="22.7" ry="20.2"/>
<ellipse cx="1676.0" cy="45.8" rx="22.7" ry="20.2"/>
<ellipse cx="1783.3" cy="51.6" rx="22.7" ry="20.2"/>
<ellipse cx="1429.8" cy="67.0" rx="22.7" ry="20.2"/>
<ellipse cx="1888.1" cy="73.4" rx="22.7" ry="20.2"/>
<ellipse cx="1764.4" cy="115.4" rx="22.7" ry="20.2"/>
<ellipse cx="1849.4" cy="120.8" rx="22.7" ry="20.2"/>
<ellipse cx="1459.0" cy="130.4" rx="22.7" ry="20.2"/>
<ellipse cx="1655.4" cy="138.8" rx="22.7" ry="20.2"/>
<ellipse cx="1739.7" cy="187.2" rx="22.7" ry="20.2"/>
<ellipse cx="1891.0" cy="180.1" rx="22.7" ry="20.2"/>
<ellipse cx="1808.3" cy="222.4" rx="22.7" ry="20.2"/>
<ellipse cx="1533.7" cy="233.0" rx="22.7" ry="20.2"/>
<ellipse cx="1856.4" cy="250.0" rx="22.7" ry="20.2"/>
<ellipse cx="1727.6" cy="260.6" rx="22.7" ry="20.2"/>
<ellipse cx="1585.3" cy="271.5" rx="22.7" ry="20.2"/>
<ellipse cx="1516.7" cy="300.3" rx="24" ry="21.6"/>
<ellipse cx="1901.3" cy="297.8" rx="22.7" ry="20.2"/>
<ellipse cx="1592.6" cy="347.8" rx="24" ry="21.6"/>
<ellipse cx="1473.7" cy="398.1" rx="24" ry="21.6"/>
<ellipse cx="1527.9" cy="397.4" rx="24" ry="21.6"/>
<ellipse cx="1862.8" cy="407.1" rx="22.7" ry="20.2"/>
<ellipse cx="1613.8" cy="434.6" rx="24" ry="21.6"/>
<ellipse cx="1918.9" cy="442.9" rx="22.7" ry="20.2"/>
<ellipse cx="1871.5" cy="465.7" rx="22.7" ry="20.2"/>
<ellipse cx="1950.2" cy="85.9" rx="22.7" ry="20.2"/>
<ellipse cx="2028.7" cy="126.3" rx="22.7" ry="20.2"/>
<ellipse cx="1949.5" cy="143.9" rx="22.7" ry="20.2"/>
<ellipse cx="2015.2" cy="209.3" rx="22.7" ry="20.2"/>
<ellipse cx="1948.6" cy="233.3" rx="22.7" ry="20.2"/>
<ellipse cx="2112.4" cy="266.0" rx="22.7" ry="20.2"/>
<ellipse cx="2009.5" cy="283.7" rx="22.7" ry="20.2"/>
<ellipse cx="2197.3" cy="318.6" rx="22.7" ry="20.2"/>
<ellipse cx="1942.5" cy="345.8" rx="22.7" ry="20.2"/>
<ellipse cx="2025.8" cy="349.7" rx="22.7" ry="20.2"/>
<ellipse cx="2121.3" cy="381.4" rx="22.7" ry="20.2"/>
<ellipse cx="2016.2" cy="414.7" rx="22.7" ry="20.2"/>
<ellipse cx="2147.3" cy="471.8" rx="22.7" ry="20.2"/>
<ellipse cx="1934.2" cy="486.2" rx="22.7" ry="20.2"/>
<ellipse cx="1900.3" cy="525.4" rx="22.7" ry="20.2"/>
<ellipse cx="1762.5" cy="559.4" rx="24.6" ry="22.2"/>
<ellipse cx="1607.4" cy="582.5" rx="24.6" ry="22.2"/>
<ellipse cx="1711.9" cy="589.2" rx="24" ry="21.6"/>
<ellipse cx="1828.8" cy="642.4" rx="22.7" ry="20.2"/>
<ellipse cx="1890.4" cy="649.5" rx="22.7" ry="20.2"/>
<ellipse cx="1666.3" cy="699.8" rx="24.6" ry="22.2"/>
<ellipse cx="1744.2" cy="705.3" rx="22.7" ry="20.2"/>
<ellipse cx="1458.3" cy="717.1" rx="24" ry="21.6"/>
<ellipse cx="1821.8" cy="731.5" rx="22.7" ry="20.2"/>
<ellipse cx="1465.4" cy="756.5" rx="24.6" ry="22.2"/>
<ellipse cx="1613.8" cy="757.8" rx="24.6" ry="22.2"/>
<ellipse cx="1473.4" cy="820.6" rx="24" ry="21.6"/>
<ellipse cx="1858.0" cy="812.0" rx="22.7" ry="20.2"/>
<ellipse cx="1744.9" cy="836.3" rx="22.7" ry="20.2"/>
<ellipse cx="1528.2" cy="861.0" rx="22.7" ry="20.2"/>
<ellipse cx="2010.8" cy="533.5" rx="22.7" ry="20.2"/>
<ellipse cx="1970.1" cy="600.1" rx="22.7" ry="20.2"/>
<ellipse cx="1491.0" cy="1056.7" rx="22.7" ry="20.2"/>
<ellipse cx="1487.8" cy="1094.6" rx="22.7" ry="20.2"/>
<ellipse cx="1428.8" cy="1135.3" rx="22.7" ry="20.2"/>
<ellipse cx="1340.4" cy="1157.7" rx="22.7" ry="20.2"/>
<ellipse cx="1400.6" cy="1209.9" rx="22.7" ry="20.2"/>
</g>
<g class="d">
<rect x="790.0" y="582.0" width="96.0" height="84.0" rx="9"/>
<rect x="1180.0" y="440.6" width="67.0" height="58.0" rx="6"/>
<rect x="1146.2" y="93.9" width="46.0" height="41.0" rx="6"/>
<rect x="1389.6" y="206.7" width="47.0" height="41.0" rx="6"/>
<rect x="1369.5" y="442.7" width="49.0" height="42.0" rx="6"/>
<rect x="1721.0" y="314.2" width="58.0" height="51.0" rx="6"/>
<rect x="1653.2" y="353.6" width="52.0" height="45.5" rx="6"/>
<rect x="1729.7" y="399.7" width="58.0" height="50.0" rx="6"/>
<rect x="1482.4" y="445.3" width="50.0" height="44.0" rx="6"/>
<rect x="1544.9" y="457.0" width="48.7" height="42.0" rx="6"/>
<rect x="1427.6" y="489.8" width="50.0" height="43.0" rx="6"/>
<rect x="1591.3" y="505.5" width="52.0" height="45.0" rx="6"/>
<rect x="1688.2" y="512.9" width="47.5" height="41.7" rx="6"/>
<rect x="1407.7" y="533.8" width="52.0" height="45.5" rx="6"/>
<rect x="1497.9" y="568.4" width="49.0" height="43.0" rx="6"/>
<rect x="1627.8" y="589.2" width="47.0" height="41.0" rx="6"/>
<rect x="1405.4" y="589.9" width="52.0" height="45.5" rx="6"/>
<rect x="1676.8" y="615.4" width="47.5" height="41.7" rx="6"/>
<rect x="1554.0" y="640.0" width="49.0" height="42.6" rx="6"/>
<rect x="1495.2" y="644.3" width="50.0" height="45.0" rx="6"/>
<rect x="1357.4" y="684.0" width="48.0" height="42.0" rx="6"/>
<rect x="1562.0" y="693.4" width="49.0" height="43.0" rx="6"/>
<rect x="1501.0" y="697.0" width="50.0" height="44.0" rx="6"/>
<rect x="1656.1" y="779.1" width="48.7" height="42.0" rx="6"/>
<rect x="1583.5" y="834.9" width="46.5" height="40.7" rx="6"/>
<rect x="1256.1" y="783.9" width="50.0" height="43.0" rx="6"/>
<rect x="978.2" y="900.8" width="52.0" height="44.0" rx="6"/>
<rect x="1331.4" y="978.5" width="48.0" height="42.0" rx="6"/>
<rect x="1192.0" y="1048.4" width="50.0" height="43.0" rx="6"/>
<rect x="1090.7" y="1079.3" width="48.0" height="42.0" rx="6"/>
<rect x="1662.7" y="947.5" width="46.5" height="40.7" rx="6"/>
<rect x="1649.2" y="1000.4" width="46.5" height="40.7" rx="6"/>
<rect x="1546.0" y="1039.6" width="46.5" height="40.7" rx="6"/>
</g>
<g class="t">
<text transform="translate(855.4 149.0) scale(1.15 1)" font-size="11.04">MMP9</text>
<text transform="translate(717.3 177.5) scale(1.15 1)" font-size="11.04">SOD1</text>
<text transform="translate(789.7 190.3) scale(1.15 1)" font-size="11.04">CXCL10</text>
<text transform="translate(625.6 197.0) scale(1.15 1)" font-size="11.04">COL1A1</text>
<text transform="translate(735.9 241.3) scale(1.15 1)" font-size="11.04">IGFBP3</text>
<text transform="translate(883.5 234.9) scale(1.15 1)" font-size="11.04">CCNB1</text>
<text transform="translate(570.8 253.1) scale(1.15 1)" font-size="11.04">IL1A</text>
<text transform="translate(657.1 259.2) scale(1.15 1)" font-size="11.04">ACACA</text>
<text transform="translate(823.1 269.2) scale(1.15 1)" font-size="11.04">NQO1</text>
<text transform="translate(495.8 286.5) scale(1.15 1)" font-size="11.04">ELK1</text>
<text transform="translate(885.6 301.5) scale(1.15 1)" font-size="11.04">CHUK</text>
<text transform="translate(573.1 315.3) scale(1.15 1)" font-size="11.04">DUOX2</text>
<text transform="translate(714.4 312.7) scale(1.15 1)" font-size="11.04">IGF2</text>
<text transform="translate(807.1 317.9) scale(1.15 1)" font-size="11.04">COL3A1</text>
<text transform="translate(643.6 325.9) scale(1.15 1)" font-size="11.04">MAPK3</text>
<text transform="translate(436.9 347.0) scale(1.15 1)" font-size="11.04">PON1</text>
<text transform="translate(756.1 356.0) scale(1.15 1)" font-size="11.04">EGF</text>
<text transform="translate(517.3 365.3) scale(1.15 1)" font-size="11.04">RUNX2</text>
<text transform="translate(867.1 370.4) scale(1.15 1)" font-size="11.04">BMP2</text>
<text transform="translate(675.6 375.9) scale(1.15 1)" font-size="11.04">RASSF1</text>
<text transform="translate(812.2 389.4) scale(1.15 1)" font-size="11.04">CXCL11</text>
<text transform="translate(587.5 397.4) scale(1.15 1)" font-size="11.04">PPARD</text>
<text transform="translate(448.4 413.1) scale(1.15 1)" font-size="11.04">SOD3</text>
<text transform="translate(728.8 421.1) scale(1.15 1)" font-size="11.04">CLDN4</text>
<text transform="translate(813.1 437.4) scale(1.15 1)" font-size="11.04">VEGFA</text>
<text transform="translate(661.5 440.3) scale(1.15 1)" font-size="11.04">CRP</text>
<text transform="translate(376.9 443.5) scale(1.15 1)" font-size="11.04">PCOLCE</text>
<text transform="translate(521.5 445.1) scale(1.15 1)" font-size="11.04">PRKCB</text>
<text transform="translate(588.5 469.2) scale(1.15 1)" font-size="11.04">ERBB2</text>
<text transform="translate(729.5 482.9) scale(1.15 1)" font-size="11.04">CXCL2</text>
<text transform="translate(800.3 488.4) scale(1.15 1)" font-size="11.04">NFE2L2</text>
<text transform="translate(464.1 489.7) scale(1.15 1)" font-size="11.04">CXCL8</text>
<text transform="translate(654.8 499.6) scale(1.15 1)" font-size="11.04">BCL2L1</text>
<text transform="translate(528.2 507.3) scale(1.15 1)" font-size="11.04">CCND1</text>
<text transform="translate(351.3 513.1) scale(1.15 1)" font-size="11.04">NPEPPS</text>
<text transform="translate(606.1 537.1) scale(1.15 1)" font-size="11.04">SPP1</text>
<text transform="translate(717.6 536.8) scale(1.15 1)" font-size="11.04">SULT1E1</text>
<text transform="translate(430.8 543.2) scale(1.15 1)" font-size="11.04">PLAU</text>
<text transform="translate(789.7 549.6) scale(1.15 1)" font-size="11.04">CCL2</text>
<text transform="translate(521.2 570.4) scale(1.15 1)" font-size="11.04">CDKN1A</text>
<text transform="translate(344.2 590.6) scale(1.15 1)" font-size="11.04">CDKN2A</text>
<text transform="translate(452.2 602.2) scale(1.15 1)" font-size="11.04">TOP1</text>
<text transform="translate(580.8 595.4) scale(1.15 1)" font-size="11.04">BIRC5</text>
<text transform="translate(655.1 595.4) scale(1.15 1)" font-size="11.04">ERBB3</text>
<text transform="translate(727.2 606.7) scale(1.15 1)" font-size="11.04">HSF1</text>
<text transform="translate(534.0 639.0) scale(1.15 1)" font-size="11.04">EIF6</text>
<text transform="translate(394.6 651.2) scale(1.15 1)" font-size="11.04">ACAA2</text>
<text transform="translate(602.2 663.1) scale(1.15 1)" font-size="11.04">TP53</text>
<text transform="translate(675.6 663.4) scale(1.15 1)" font-size="11.04">MAOB</text>
<text transform="translate(767.0 656.0) scale(1.15 1)" font-size="11.04">HSPA5</text>
<text transform="translate(469.2 674.6) scale(1.15 1)" font-size="11.04">PTEN</text>
<text transform="translate(339.1 691.0) scale(1.15 1)" font-size="11.04">IRF1</text>
<text transform="translate(539.7 704.7) scale(1.15 1)" font-size="11.04">HIF1A</text>
<text transform="translate(710.3 708.3) scale(1.15 1)" font-size="11.04">RAF1</text>
<text transform="translate(618.6 725.2) scale(1.15 1)" font-size="11.04">SERPINE1</text>
<text transform="translate(821.2 723.3) scale(1.15 1)" font-size="11.04">POR</text>
<text transform="translate(430.1 732.6) scale(1.15 1)" font-size="11.04">PPARA</text>
<text transform="translate(759.0 752.2) scale(1.15 1)" font-size="11.04">MMP3</text>
<text transform="translate(511.9 758.6) scale(1.15 1)" font-size="11.04">HERC5</text>
<text transform="translate(599.7 772.4) scale(1.15 1)" font-size="11.04">IL10</text>
<text transform="translate(690.1 772.4) scale(1.15 1)" font-size="11.04">NKX3-1</text>
<text transform="translate(866.7 770.1) scale(1.15 1)" font-size="11.04">F3</text>
<text transform="translate(365.1 781.3) scale(1.15 1)" font-size="11.04">MGAM</text>
<text transform="translate(453.8 806.0) scale(1.15 1)" font-size="11.04">FOS</text>
<text transform="translate(560.6 811.8) scale(1.15 1)" font-size="11.04">HK2</text>
<text transform="translate(744.9 819.8) scale(1.15 1)" font-size="11.04">HSPB1</text>
<text transform="translate(830.8 820.1) scale(1.15 1)" font-size="11.04">CAV1</text>
<text transform="translate(645.5 828.5) scale(1.15 1)" font-size="11.04">THBD</text>
<text transform="translate(692.9 860.5) scale(1.15 1)" font-size="11.04">PRKCA</text>
<text transform="translate(794.6 862.1) scale(1.15 1)" font-size="11.04">CASP8</text>
<text transform="translate(501.3 866.6) scale(1.15 1)" font-size="11.04">RB1</text>
<text transform="translate(425.0 871.7) scale(1.15 1)" font-size="11.04">PTGER3</text>
<text transform="translate(870.5 875.2) scale(1.15 1)" font-size="11.04">MYC</text>
<text transform="translate(592.9 878.5) scale(1.15 1)" font-size="11.04">PARP1</text>
<text transform="translate(725.6 918.5) scale(1.15 1)" font-size="11.04">CD40LG</text>
<text transform="translate(804.8 915.3) scale(1.15 1)" font-size="11.04">GJA1</text>
<text transform="translate(498.1 934.2) scale(1.15 1)" font-size="11.04">TGFB1</text>
<text transform="translate(640.4 935.5) scale(1.15 1)" font-size="11.04">AKR1B1</text>
<text transform="translate(573.7 952.8) scale(1.15 1)" font-size="11.04">E2F1</text>
<text transform="translate(843.6 959.9) scale(1.15 1)" font-size="11.04">ABCG2</text>
<text transform="translate(692.6 987.7) scale(1.15 1)" font-size="11.04">PLAT</text>
<text transform="translate(771.2 983.6) scale(1.15 1)" font-size="11.04">RASA1</text>
<text transform="translate(604.8 1017.2) scale(1.15 1)" font-size="11.04">E2F2</text>
<text transform="translate(835.9 1036.5) scale(1.15 1)" font-size="11.04">MMP2</text>
<text transform="translate(727.9 1048.6) scale(1.15 1)" font-size="11.04">NCF1</text>
<text transform="translate(1332.4 116.9) scale(1.15 1)" font-size="11.04">NR3C1</text>
<text transform="translate(1249.0 158.6) scale(1.15 1)" font-size="11.04">PGR</text>
<text transform="translate(939.4 187.1) scale(1.15 1)" font-size="11.04">CHEK2</text>
<text transform="translate(1326.3 182.0) scale(1.15 1)" font-size="11.04">AKR1C3</text>
<text transform="translate(1009.6 213.4) scale(1.15 1)" font-size="11.04">ACP3</text>
<text transform="translate(1173.4 227.8) scale(1.15 1)" font-size="11.04">SLPI</text>
<text transform="translate(1249.0 225.9) scale(1.15 1)" font-size="11.04">MAPK8</text>
<text transform="translate(1080.4 262.7) scale(1.15 1)" font-size="11.04">XDH</text>
<text transform="translate(1329.8 260.2) scale(1.15 1)" font-size="11.04">PPP3CA</text>
<text transform="translate(954.2 277.5) scale(1.15 1)" font-size="11.04">ODC1</text>
<text transform="translate(1131.1 309.5) scale(1.15 1)" font-size="11.04">STAT1</text>
<text transform="translate(1041.3 325.6) scale(1.15 1)" font-size="11.04">SLC2A4</text>
<text transform="translate(1421.5 325.6) scale(1.15 1)" font-size="11.04">KDR</text>
<text transform="translate(1161.9 338.7) scale(1.15 1)" font-size="11.04">GSTM2</text>
<text transform="translate(1259.9 352.8) scale(1.15 1)" font-size="11.04">ICAM1</text>
<text transform="translate(980.8 357.0) scale(1.15 1)" font-size="11.04">DIO1</text>
<text transform="translate(1105.4 379.4) scale(1.15 1)" font-size="11.04">CYP1A2</text>
<text transform="translate(1188.1 381.0) scale(1.15 1)" font-size="11.04">AHR</text>
<text transform="translate(1049.7 389.0) scale(1.15 1)" font-size="11.04">ALOX5</text>
<text transform="translate(982.1 400.9) scale(1.15 1)" font-size="11.04">CYP1B1</text>
<text transform="translate(1416.0 399.4) scale(1.15 1)" font-size="12.35" class="b">AR</text>
<text transform="translate(1354.2 413.7) scale(1.15 1)" font-size="11.04">RXRA</text>
<text transform="translate(1096.8 429.1) scale(1.15 1)" font-size="11.04">NR1I2</text>
<text transform="translate(1151.9 444.5) scale(1.15 1)" font-size="11.04">CHEK1</text>
<text transform="translate(926.3 451.5) scale(1.15 1)" font-size="11.04">GSTP1</text>
<text transform="translate(1320.2 454.1) scale(1.15 1)" font-size="11.04">EGFR</text>
<text transform="translate(992.9 481.0) scale(1.15 1)" font-size="11.04">POLD1</text>
<text transform="translate(1052.2 483.6) scale(1.15 1)" font-size="11.04">CDK1</text>
<text transform="translate(1280.8 485.7) scale(1.15 1)" font-size="12.35" class="b">ACHE</text>
<text transform="translate(894.9 515.3) scale(1.15 1)" font-size="11.04">PSMD3</text>
<text transform="translate(1023.1 522.4) scale(1.15 1)" font-size="11.04">VCAM1</text>
<text transform="translate(1339.7 521.5) scale(1.15 1)" font-size="12.35" class="b">F7</text>
<text transform="translate(1272.1 531.5) scale(1.15 1)" font-size="12.35" class="b">CDK2</text>
<text transform="translate(1071.5 539.4) scale(1.15 1)" font-size="11.04">INSR</text>
<text transform="translate(1206.1 567.7) scale(1.15 1)" font-size="12.35" class="b">ESR2</text>
<text transform="translate(1321.8 567.7) scale(1.15 1)" font-size="12.35" class="b">GABRA1</text>
<text transform="translate(991.0 568.5) scale(1.15 1)" font-size="11.04">RELA</text>
<text transform="translate(1110.3 583.3) scale(1.15 1)" font-size="11.04">BAX</text>
<text transform="translate(941.3 594.5) scale(1.15 1)" font-size="11.04">CYP1A1</text>
<text transform="translate(1091.0 607.9) scale(1.15 1)" font-size="11.04">SELE</text>
<text transform="translate(1258.0 603.0) scale(1.15 1)" font-size="12.35" class="b">PPARG</text>
<text transform="translate(1359.6 605.8) scale(1.15 1)" font-size="16.70" class="l">PTGS2</text>
<text transform="translate(1199.4 625.4) scale(1.15 1)" font-size="12.35" class="b">NOS2</text>
<text transform="translate(1262.8 653.3) scale(1.15 1)" font-size="12.35" class="b">DPEP1</text>
<text transform="translate(1362.2 653.3) scale(1.15 1)" font-size="12.35" class="b">CA2</text>
<text transform="translate(971.2 666.0) scale(1.15 1)" font-size="11.04">CASP3</text>
<text transform="translate(1039.1 660.2) scale(1.15 1)" font-size="11.04">CYP3A4</text>
<text transform="translate(1095.5 681.0) scale(1.15 1)" font-size="11.04">NR1I3</text>
<text transform="translate(1011.9 702.5) scale(1.15 1)" font-size="11.04">HAS2</text>
<text transform="translate(1158.0 704.1) scale(1.15 1)" font-size="11.04">GSTM1</text>
<text transform="translate(1221.2 701.7) scale(1.15 1)" font-size="12.35" class="b">PIM1</text>
<text transform="translate(940.1 737.4) scale(1.15 1)" font-size="11.04">HMOX1</text>
<text transform="translate(1056.4 739.7) scale(1.15 1)" font-size="11.04">MMP1</text>
<text transform="translate(1175.6 749.1) scale(1.15 1)" font-size="12.35" class="b">GSK3B</text>
<text transform="translate(1269.9 743.7) scale(1.15 1)" font-size="12.35" class="b">ESR1</text>
<text transform="translate(1331.4 758.4) scale(1.15 1)" font-size="12.35" class="b">MAPK14</text>
<text transform="translate(999.0 761.8) scale(1.15 1)" font-size="11.04">AHSA1</text>
<text transform="translate(1109.6 782.6) scale(1.15 1)" font-size="11.04">BCL2</text>
<text transform="translate(1029.8 804.7) scale(1.15 1)" font-size="11.04">JUN</text>
<text transform="translate(1205.8 805.7) scale(1.15 1)" font-size="11.04">NOS3</text>
<text transform="translate(1411.9 818.9) scale(1.15 1)" font-size="13.91" class="l">PRSS1</text>
<text transform="translate(927.9 822.7) scale(1.15 1)" font-size="11.04">CASP9</text>
<text transform="translate(953.8 870.4) scale(1.15 1)" font-size="11.04">CAT</text>
<text transform="translate(1033.3 870.4) scale(1.15 1)" font-size="11.04">DCAF5</text>
<text transform="translate(1109.6 888.1) scale(1.15 1)" font-size="11.04">AKT1</text>
<text transform="translate(1315.4 885.8) scale(1.15 1)" font-size="11.04">IKBKB</text>
<text transform="translate(1176.0 911.8) scale(1.15 1)" font-size="11.04">NFKBIA</text>
<text transform="translate(909.9 939.7) scale(1.15 1)" font-size="11.04">RUNX1T1</text>
<text transform="translate(1408.3 944.2) scale(1.15 1)" font-size="11.04">CALM3</text>
<text transform="translate(1078.5 961.1) scale(1.15 1)" font-size="11.04">CTSD</text>
<text transform="translate(1178.2 987.3) scale(1.15 1)" font-size="12.35" class="b">TNF</text>
<text transform="translate(1232.7 1003.5) scale(1.15 1)" font-size="11.04">IL6</text>
<text transform="translate(913.1 1010.8) scale(1.15 1)" font-size="11.04">MAPK1</text>
<text transform="translate(989.4 1008.9) scale(1.15 1)" font-size="11.04">IL2</text>
<text transform="translate(1063.1 1078.8) scale(1.15 1)" font-size="11.04">MPO</text>
<text transform="translate(978.2 1091.9) scale(1.15 1)" font-size="11.04">IFNG</text>
<text transform="translate(1173.7 1102.2) scale(1.15 1)" font-size="11.04">IL1B</text>
<text transform="translate(1256.4 1157.6) scale(1.15 1)" font-size="11.04">SIRT1</text>
<text transform="translate(832.4 1179.7) scale(1.15 1)" font-size="11.04">CASP7</text>
<text transform="translate(1130.1 1185.8) scale(1.15 1)" font-size="11.04">TFAM</text>
<text transform="translate(1180.4 1194.5) scale(1.15 1)" font-size="11.04">S100A8</text>
<text transform="translate(1017.9 1196.4) scale(1.15 1)" font-size="11.04">ALB</text>
<text transform="translate(1058.3 1213.7) scale(1.15 1)" font-size="11.04">GLP1R</text>
<text transform="translate(928.8 1219.8) scale(1.15 1)" font-size="11.04">CTNNB1</text>
<text transform="translate(985.6 1239.7) scale(1.15 1)" font-size="11.04">TCF7L2</text>
<text transform="translate(1220.2 1231.3) scale(1.15 1)" font-size="11.04">UCP1</text>
<text transform="translate(1275.0 1229.4) scale(1.15 1)" font-size="11.04">STAT4</text>
<text transform="translate(1020.8 1259.5) scale(1.15 1)" font-size="11.04">NR1H4</text>
<text transform="translate(1076.3 1265.0) scale(1.15 1)" font-size="11.04">CXCL1</text>
<text transform="translate(1147.4 1259.2) scale(1.15 1)" font-size="11.04">WNT2</text>
<text transform="translate(1234.0 1301.2) scale(1.15 1)" font-size="11.04">PPARGC1A</text>
<text transform="translate(1676.0 49.3) scale(1.15 1)" font-size="11.04">HTR1B</text>
<text transform="translate(1783.3 55.1) scale(1.15 1)" font-size="11.04">DRD5</text>
<text transform="translate(1429.8 70.4) scale(1.15 1)" font-size="11.04">NR3C2</text>
<text transform="translate(1888.1 76.9) scale(1.15 1)" font-size="11.04">HTR1D</text>
<text transform="translate(1764.4 118.8) scale(1.15 1)" font-size="11.04">HTR3A</text>
<text transform="translate(1849.4 124.3) scale(1.15 1)" font-size="11.04">HTR2C</text>
<text transform="translate(1459.0 133.9) scale(1.15 1)" font-size="11.04">MT3</text>
<text transform="translate(1655.4 142.2) scale(1.15 1)" font-size="11.04">PIK3CG</text>
<text transform="translate(1739.7 190.6) scale(1.15 1)" font-size="11.04">ADRA2B</text>
<text transform="translate(1891.0 183.6) scale(1.15 1)" font-size="11.04">SLC6A4</text>
<text transform="translate(1808.3 225.9) scale(1.15 1)" font-size="11.04">CHRM4</text>
<text transform="translate(1533.7 236.5) scale(1.15 1)" font-size="11.04">SLC6A2</text>
<text transform="translate(1856.4 253.5) scale(1.15 1)" font-size="11.04">CHRNA2</text>
<text transform="translate(1727.6 264.0) scale(1.15 1)" font-size="11.04">CHRM3</text>
<text transform="translate(1585.3 274.9) scale(1.15 1)" font-size="11.04">CHRM2</text>
<text transform="translate(1516.7 304.2) scale(1.15 1)" font-size="12.35" class="b">PTGS1</text>
<text transform="translate(1901.3 301.2) scale(1.15 1)" font-size="11.04">ADRA1D</text>
<text transform="translate(1592.6 351.7) scale(1.15 1)" font-size="12.35" class="b">CHRM1</text>
<text transform="translate(1473.7 402.0) scale(1.15 1)" font-size="12.35" class="b">ADRB2</text>
<text transform="translate(1527.9 401.4) scale(1.15 1)" font-size="12.35" class="b">SCN5A</text>
<text transform="translate(1862.8 410.5) scale(1.15 1)" font-size="11.04">CHRNA7</text>
<text transform="translate(1613.8 438.5) scale(1.15 1)" font-size="12.35" class="b">ADRA1B</text>
<text transform="translate(1918.9 446.4) scale(1.15 1)" font-size="11.04">DRD1</text>
<text transform="translate(1871.5 469.2) scale(1.15 1)" font-size="11.04">OPRM1</text>
<text transform="translate(1950.2 89.4) scale(1.15 1)" font-size="11.04">SLC6A3</text>
<text transform="translate(2028.7 129.7) scale(1.15 1)" font-size="11.04">ADRB1</text>
<text transform="translate(1949.5 147.4) scale(1.15 1)" font-size="11.04">DRD2</text>
<text transform="translate(2015.2 212.7) scale(1.15 1)" font-size="11.04">HTR2A</text>
<text transform="translate(1948.6 236.8) scale(1.15 1)" font-size="11.04">DRD3</text>
<text transform="translate(2112.4 269.5) scale(1.15 1)" font-size="11.04">HTR2B</text>
<text transform="translate(2009.5 287.1) scale(1.15 1)" font-size="11.04">HTR7</text>
<text transform="translate(2197.3 322.0) scale(1.15 1)" font-size="11.04">DRD4</text>
<text transform="translate(1942.5 349.3) scale(1.15 1)" font-size="11.04">CHRM5</text>
<text transform="translate(2025.8 353.1) scale(1.15 1)" font-size="11.04">ADRA2A</text>
<text transform="translate(2121.3 384.9) scale(1.15 1)" font-size="11.04">PDE10A</text>
<text transform="translate(2016.2 418.2) scale(1.15 1)" font-size="11.04">PDE3A</text>
<text transform="translate(2147.3 475.2) scale(1.15 1)" font-size="11.04">ADRA2C</text>
<text transform="translate(1934.2 489.7) scale(1.15 1)" font-size="11.04">ADRA1A</text>
<text transform="translate(1900.3 528.9) scale(1.15 1)" font-size="11.04">OPRD1</text>
<text transform="translate(1762.5 563.9) scale(1.15 1)" font-size="13.91" class="l">HSP90AA1</text>
<text transform="translate(1607.4 587.0) scale(1.15 1)" font-size="13.91" class="l">KCNH2</text>
<text transform="translate(1711.9 593.2) scale(1.15 1)" font-size="12.35" class="b">F10</text>
<text transform="translate(1828.8 645.9) scale(1.15 1)" font-size="11.04">IGHG1</text>
<text transform="translate(1890.4 652.9) scale(1.15 1)" font-size="11.04">NCOA1</text>
<text transform="translate(1666.3 704.3) scale(1.15 1)" font-size="13.91" class="l">NCOA2</text>
<text transform="translate(1744.2 708.7) scale(1.15 1)" font-size="11.04">F2</text>
<text transform="translate(1458.3 721.0) scale(1.15 1)" font-size="12.35" class="b">CCNA2</text>
<text transform="translate(1821.8 735.0) scale(1.15 1)" font-size="11.04">TPO</text>
<text transform="translate(1465.4 761.0) scale(1.15 1)" font-size="13.91" class="l">DPP4</text>
<text transform="translate(1613.8 762.3) scale(1.15 1)" font-size="13.91" class="l">CALM1</text>
<text transform="translate(1473.4 824.6) scale(1.15 1)" font-size="12.35" class="b">TOP2A</text>
<text transform="translate(1858.0 815.4) scale(1.15 1)" font-size="11.04">CACNA1S</text>
<text transform="translate(1744.9 839.8) scale(1.15 1)" font-size="11.04">KCNMA1</text>
<text transform="translate(1528.2 864.5) scale(1.15 1)" font-size="11.04">GRIA2</text>
<text transform="translate(2010.8 536.9) scale(1.15 1)" font-size="11.04">PRKACA</text>
<text transform="translate(1970.1 603.6) scale(1.15 1)" font-size="11.04">ampC</text>
<text transform="translate(1491.0 1060.2) scale(1.15 1)" font-size="11.04">PRKAA1</text>
<text transform="translate(1487.8 1098.0) scale(1.15 1)" font-size="11.04">SREBF1</text>
<text transform="translate(1428.8 1138.7) scale(1.15 1)" font-size="11.04">STK11</text>
<text transform="translate(1340.4 1161.1) scale(1.15 1)" font-size="11.04">PRKAB1</text>
<text transform="translate(1400.6 1213.4) scale(1.15 1)" font-size="11.04">PRKAA2</text>
</g>
<g class="dt">
<text transform="translate(838.0 639.7) scale(1.1 1)" font-size="48.82" class="x">DZ30</text>
<text transform="translate(1213.5 478.3) scale(1.1 1)" font-size="25.50" class="big">DZ31</text>
<text transform="translate(1169.2 118.3) scale(1.1 1)" font-size="12.05" class="s">DZ19</text>
<text transform="translate(1413.1 231.1) scale(1.1 1)" font-size="12.05" class="s">DZ22</text>
<text transform="translate(1394.0 468.2) scale(1.1 1)" font-size="13.63" class="m">DZ24</text>
<text transform="translate(1750.0 346.8) scale(1.1 1)" font-size="21.05" class="big">DZ14</text>
<text transform="translate(1679.2 381.8) scale(1.1 1)" font-size="16.41" class="big">DZ12</text>
<text transform="translate(1758.7 431.6) scale(1.1 1)" font-size="20.40" class="big">DZ8</text>
<text transform="translate(1507.4 472.2) scale(1.1 1)" font-size="14.84">DZ4</text>
<text transform="translate(1569.2 482.5) scale(1.1 1)" font-size="13.63" class="m">DZ17</text>
<text transform="translate(1452.6 516.3) scale(1.1 1)" font-size="15.11">DZ7</text>
<text transform="translate(1617.3 533.6) scale(1.1 1)" font-size="16.69" class="big">DZ10</text>
<text transform="translate(1711.9 538.0) scale(1.1 1)" font-size="12.98" class="m">DZ2</text>
<text transform="translate(1433.7 562.1) scale(1.1 1)" font-size="16.69" class="big">DZ32</text>
<text transform="translate(1522.4 594.8) scale(1.1 1)" font-size="14.84">DZ16</text>
<text transform="translate(1651.3 613.5) scale(1.1 1)" font-size="11.78" class="s">DZ9</text>
<text transform="translate(1431.4 618.1) scale(1.1 1)" font-size="16.51" class="big">DZ5</text>
<text transform="translate(1700.6 640.5) scale(1.1 1)" font-size="12.98" class="m">DZ11</text>
<text transform="translate(1578.5 666.4) scale(1.1 1)" font-size="15.39">DZ15</text>
<text transform="translate(1520.2 671.9) scale(1.1 1)" font-size="15.30">DZ3</text>
<text transform="translate(1381.4 709.3) scale(1.1 1)" font-size="13.26" class="m">DZ28</text>
<text transform="translate(1586.5 719.8) scale(1.1 1)" font-size="14.93">DZ26</text>
<text transform="translate(1526.0 724.1) scale(1.1 1)" font-size="15.30">DZ6</text>
<text transform="translate(1680.4 804.3) scale(1.1 1)" font-size="12.98" class="m">DZ21</text>
<text transform="translate(1606.7 859.2) scale(1.1 1)" font-size="12.05" class="s">DZ1</text>
<text transform="translate(1281.1 810.4) scale(1.1 1)" font-size="15.21">DZ27</text>
<text transform="translate(1004.2 928.4) scale(1.1 1)" font-size="16.69" class="big">DZ13</text>
<text transform="translate(1355.4 1003.7) scale(1.1 1)" font-size="12.98" class="m">DZ29</text>
<text transform="translate(1217.0 1074.8) scale(1.1 1)" font-size="14.84">DZ33</text>
<text transform="translate(1114.7 1104.6) scale(1.1 1)" font-size="13.17" class="m">DZ25</text>
<text transform="translate(1685.9 971.8) scale(1.1 1)" font-size="12.05" class="s">DZ20</text>
<text transform="translate(1672.4 1024.7) scale(1.1 1)" font-size="12.05" class="s">DZ18</text>
<text transform="translate(1569.2 1063.8) scale(1.1 1)" font-size="12.05" class="s">DZ23</text>
</g>
</g>
<g filter="url(#b2)">
<text x="1215" y="1426.8" font-size="60.5" font-weight="700" text-anchor="middle" fill="#000">A</text>
<text x="1215.7" y="2530.9" font-size="60.5" font-weight="700" text-anchor="middle" fill="#000">B</text>
<text x="1241.3" y="1521.8" font-size="27.1" font-weight="700" text-anchor="middle" fill="#111">% terms per group</text>
<g class="sl">
<path d="M1251.3 1969.3L1352.24 1591.21A385.0 391.8 0 0 1 1358.53 1593.00Z" fill="#8aa37a"/>
<path d="M1251.3 1969.3L1358.53 1593.00A385.0 391.8 0 0 1 1364.79 1594.91Z" fill="#5cf53a"/>
<path d="M1251.3 1969.3L1364.79 1594.91A385.0 391.8 0 0 1 1371.01 1596.92Z" fill="#a8dcc8"/>
<path d="M1251.3 1969.3L1371.01 1596.92A385.0 391.8 0 0 1 1377.20 1599.04Z" fill="#0a0a8c"/>
<path d="M1251.3 1969.3L1377.20 1599.04A385.0 391.8 0 0 1 1395.32 1605.95Z" fill="#c025b4"/>
<path d="M1251.3 1969.3L1395.32 1605.95A385.0 391.8 0 0 1 1413.08 1613.77Z" fill="#c8440a"/>
<path d="M1251.3 1969.3L1413.08 1613.77A385.0 391.8 0 0 1 1430.43 1622.49Z" fill="#c655ee"/>
<path d="M1251.3 1969.3L1430.43 1622.49A385.0 391.8 0 0 1 1452.71 1635.39Z" fill="#98103f"/>
<path d="M1251.3 1969.3L1452.71 1635.39A385.0 391.8 0 0 1 1474.10 1649.77Z" fill="#456b1c"/>
<path d="M1251.3 1969.3L1474.10 1649.77A385.0 391.8 0 0 1 1504.31 1673.98Z" fill="#4a1a7c"/>
<path d="M1251.3 1969.3L1504.31 1673.98A385.0 391.8 0 0 1 1531.99 1701.13Z" fill="#7a6cf8"/>
<path d="M1251.3 1969.3L1531.99 1701.13A385.0 391.8 0 0 1 1560.80 1736.27Z" fill="#a6e60c"/>
<path d="M1251.3 1969.3L1560.80 1736.27A385.0 391.8 0 0 1 1588.47 1780.17Z" fill="#8cd8be"/>
<path d="M1251.3 1969.3L1588.47 1780.17A385.0 391.8 0 0 1 1610.17 1827.41Z" fill="#76b842"/>
<path d="M1251.3 1969.3L1610.17 1827.41A385.0 391.8 0 0 1 1625.50 1877.17Z" fill="#8ceb84"/>
<path d="M1251.3 1969.3L1625.50 1877.17A385.0 391.8 0 0 1 1634.21 1928.56Z" fill="#f8d60a"/>
<path d="M1251.3 1969.3L1634.21 1928.56A385.0 391.8 0 0 1 1635.89 1987.32Z" fill="#8eac12"/>
<path d="M1251.3 1969.3L1635.89 1987.32A385.0 391.8 0 0 1 1627.64 2051.94Z" fill="#cfa55b"/>
<path d="M1251.3 1969.3L1627.64 2051.94A385.0 391.8 0 0 1 1608.98 2114.27Z" fill="#5f98f8"/>
<path d="M1251.3 1969.3L1608.98 2114.27A385.0 391.8 0 0 1 1580.42 2172.59Z" fill="#7a0e6c"/>
<path d="M1251.3 1969.3L1580.42 2172.59A385.0 391.8 0 0 1 1538.45 2230.28Z" fill="#5ccfec"/>
<path d="M1251.3 1969.3L1538.45 2230.28A385.0 391.8 0 0 1 1486.84 2279.22Z" fill="#b29200"/>
<path d="M1251.3 1969.3L1486.84 2279.22A385.0 391.8 0 0 1 1427.33 2317.75Z" fill="#f0ffb2"/>
<path d="M1251.3 1969.3L1427.33 2317.75A385.0 391.8 0 0 1 1355.87 2346.37Z" fill="#9248ea"/>
<path d="M1251.3 1969.3L1355.87 2346.37A385.0 391.8 0 0 1 1280.25 2359.99Z" fill="#7a6a8a"/>
<path d="M1251.3 1969.3L1280.25 2359.99A385.0 391.8 0 0 1 1190.78 2356.23Z" fill="#6a6eb2"/>
<path d="M1251.3 1969.3L1190.78 2356.23A385.0 391.8 0 0 1 1104.59 2331.54Z" fill="#3a80e2"/>
<path d="M1251.3 1969.3L1104.59 2331.54A385.0 391.8 0 0 1 1026.33 2287.25Z" fill="#eca8b8"/>
<path d="M1251.3 1969.3L1026.33 2287.25A385.0 391.8 0 0 1 960.24 2225.77Z" fill="#50101a"/>
<path d="M1251.3 1969.3L960.24 2225.77A385.0 391.8 0 0 1 901.39 2132.72Z" fill="#468c9e"/>
<path d="M1251.3 1969.3L901.39 2132.72A385.0 391.8 0 0 1 869.58 2020.30Z" fill="#76c0ac"/>
<path d="M1251.3 1969.3L869.58 2020.30A385.0 391.8 0 0 1 1352.24 1591.21Z" fill="#5f9a1b"/>
</g>
<g class="ln">
<path d="M1696.9 1575.0C1656.6 1572.2 1360.9 1572.2 1345.0 1629.8"/>
<path d="M1697.4 1608.0C1656.6 1574.2 1367.5 1574.2 1350.6 1631.5"/>
<path d="M1697.9 1641.0C1656.6 1576.2 1374.0 1576.2 1356.2 1633.2"/>
<path d="M1698.4 1673.8C1656.6 1578.4 1380.6 1578.4 1361.8 1635.1"/>
<path d="M1699.4 1706.7C1656.6 1583.1 1393.4 1583.1 1372.8 1639.1"/>
<path d="M1700.9 1739.6C1656.6 1590.8 1412.3 1590.8 1389.0 1645.7"/>
<path d="M1702.4 1772.5C1656.6 1599.5 1430.8 1599.5 1404.8 1653.1"/>
<path d="M1704.0 1805.4C1656.6 1610.8 1451.7 1610.8 1422.6 1662.8"/>
<path d="M1705.8 1838.3C1656.6 1625.2 1474.7 1625.2 1442.3 1675.1"/>
<path d="M1708.0 1871.2C1656.6 1645.3 1502.0 1645.3 1465.7 1692.3"/>
<path d="M1710.3 1904.1C1656.6 1672.4 1532.5 1672.4 1491.8 1715.4"/>
<path d="M1712.7 1937.0C1656.6 1705.1 1562.5 1705.1 1517.3 1743.4"/>
<path d="M1715.0 1969.9C1656.6 1746.6 1592.4 1746.6 1542.9 1778.9"/>
<path d="M1717.1 2002.7C1656.6 1794.7 1618.4 1794.7 1565.2 1820.0"/>
<path d="M1718.6 2035.6C1656.6 1845.9 1638.0 1845.9 1581.9 1863.8"/>
<path d="M1719.6 2068.9C1656.6 1899.2 1650.7 1899.2 1592.8 1909.4"/>
<path d="M1720.0 2101.4C1656.6 1957.3 1656.4 1957.3 1597.7 1959.0"/>
<path d="M1719.8 2134.3C1656.6 2022.5 1653.2 2022.5 1594.9 2014.8"/>
<path d="M1718.7 2167.2C1656.6 2089.5 1639.0 2089.5 1582.8 2072.1"/>
<path d="M1716.7 2199.7C1656.6 2153.2 1614.0 2153.2 1561.4 2126.6"/>
<path d="M1713.8 2232.6C1656.6 2214.7 1577.0 2214.7 1529.8 2179.1"/>
<path d="M1710.0 2265.0C1656.6 2271.0 1527.6 2271.0 1487.5 2227.3"/>
<path d="M1705.4 2298.4C1656.6 2317.3 1468.8 2317.3 1437.3 2266.8"/>
<path d="M1699.9 2331.3C1656.6 2353.1 1399.7 2353.1 1378.2 2297.4"/>
<path d="M1693.8 2363.8C1656.6 2375.4 1321.9 2375.4 1311.7 2316.5"/>
<path d="M813.0 2363.5C846.0 2381.4 1234.6 2381.4 1237.0 2321.6"/>
<path d="M805.7 2317.8C846.0 2366.3 1141.5 2366.3 1157.4 2308.7"/>
<path d="M798.9 2272.1C846.0 2329.7 1054.3 2329.7 1082.9 2277.5"/>
<path d="M792.9 2226.4C846.0 2273.7 977.9 2273.7 1017.5 2229.6"/>
<path d="M787.6 2181.0C846.0 2192.5 910.5 2192.5 959.9 2160.2"/>
<path d="M783.8 2084.0C846.0 2083.4 861.9 2083.4 918.3 2066.9"/>
<path d="M793.4 1659.6C846.0 1658.7 984.7 1658.7 1023.3 1703.7"/>
</g>
<g class="pl">
<text x="1703.6" y="1582.9">JAK-STAT signaling pathway 0.27% **</text>
<text x="1704.5" y="1615.9">Transcriptional misregulation in cancer 0.27% **</text>
<text x="1704.5" y="1648.9">cAMP signaling pathway 0.27% **</text>
<text x="1705.3" y="1681.7">Regulation of lipolysis in adipocytes 0.27% **</text>
<text x="1706.2" y="1714.6">p53 signaling pathway 0.8% **</text>
<text x="1707.0" y="1747.5">Calcium signaling pathway 0.8% **</text>
<text x="1709.2" y="1780.4">Insulin signaling pathway 0.8% **</text>
<text x="1710.9" y="1813.3">Relaxin signaling pathway 1.06% **</text>
<text x="1712.6" y="1846.2">GnRH signaling pathway 1.06% **</text>
<text x="1714.7" y="1879.1">Prolactin signaling pathway 1.59% **</text>
<text x="1716.8" y="1912.0">Cellular senescence 1.59% **</text>
<text x="1719.4" y="1944.9">Oxytocin signaling pathway 1.86% **</text>
<text x="1722.4" y="1977.8">Prostate cancer 2.12% **</text>
<text x="1724.1" y="2010.6">IL-17 signaling pathway 2.12% **</text>
<text x="1726.2" y="2043.5">Serotonergic synapse 2.12% **</text>
<text x="1727.1" y="2076.8">AGE-RAGE signaling pathway in diabetic complications 2.12% **</text>
<text x="1728.0" y="2109.3">Sphingolipid signaling pathway 2.39% **</text>
<text x="1727.5" y="2142.2">Chagas disease 2.65% **</text>
<text x="1727.1" y="2175.1">TNF signaling pathway 2.65% **</text>
<text x="1724.1" y="2207.6">Human cytomegalovirus infection 2.65% **</text>
<text x="1721.1" y="2240.5">Pancreatic cancer 2.92% **</text>
<text x="1717.7" y="2272.9">Toll-like receptor signaling pathway 2.92% **</text>
<text x="1712.1" y="2306.3">Hepatocellular carcinoma 2.92% **</text>
<text x="1706.2" y="2339.2">Non-alcoholic fatty liver disease 3.18% **</text>
<text x="1699.8" y="2371.7">Colorectal cancer 3.18% **</text>
<text x="789.9" y="2371.4" text-anchor="end">Bladder cancer 3.71% **</text>
<text x="744.7" y="2325.7" text-anchor="end">C-type lectin receptor signaling pathway 3.71% **</text>
<text x="762.3" y="2280.0" text-anchor="end">FoxO signaling pathway 3.71% **</text>
<text x="761.0" y="2234.3" text-anchor="end">Insulin resistance 3.71% **</text>
<text x="716.1" y="2188.9" text-anchor="end">PD-L1 expression and PD-1 checkpoint pathway in cancer 4.51% **</text>
<text x="760.6" y="2091.9" text-anchor="end">Hepatitis B 4.77% **</text>
<text x="766.8" y="1667.5" text-anchor="end">Pathways in cancer 31.3% **</text>
</g>
</g>
</svg></body></html>
